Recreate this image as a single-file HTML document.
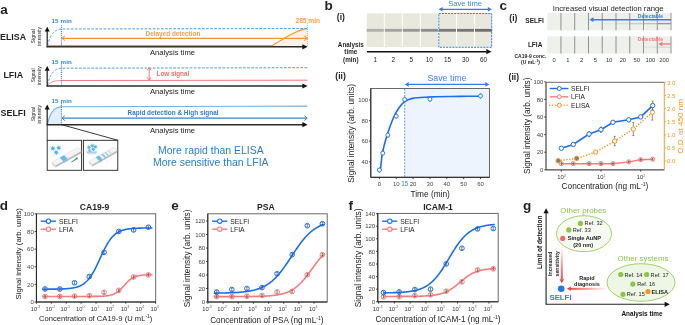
<!DOCTYPE html>
<html><head><meta charset="utf-8"><style>
html,body{margin:0;padding:0;background:#fff;}
svg{display:block;filter:blur(0.3px);}
text{font-family:"Liberation Sans", sans-serif;}
</style></head><body>
<svg width="685" height="325" viewBox="0 0 685 325" font-family='"Liberation Sans", sans-serif'>
<rect width="685" height="325" fill="#fff"/>
<text x="0.20" y="14.20" font-size="13.5" fill="#231f20" font-weight="bold" text-anchor="start" >a</text>
<text x="0.00" y="40.10" font-size="8.9" fill="#231f20" font-weight="bold" text-anchor="start" >ELISA</text>
<g transform="translate(35.3,36.30) rotate(-90)"><text x="0" y="0" font-size="5.1" fill="#222" text-anchor="middle">Signal</text></g>
<g transform="translate(41.4,36.30) rotate(-90)"><text x="0" y="0" font-size="5.1" fill="#222" text-anchor="middle">intensity</text></g>
<text x="51.50" y="23.40" font-size="6.2" fill="#2f86d0" font-weight="bold" text-anchor="start" letter-spacing="0.15">15 min</text>
<text x="150.00" y="55.00" font-size="7.65" fill="#222" text-anchor="start" >Analysis time</text>
<text x="3.40" y="78.10" font-size="8.9" fill="#231f20" font-weight="bold" text-anchor="start" >LFIA</text>
<g transform="translate(35.3,75.50) rotate(-90)"><text x="0" y="0" font-size="5.1" fill="#222" text-anchor="middle">Signal</text></g>
<g transform="translate(41.4,75.50) rotate(-90)"><text x="0" y="0" font-size="5.1" fill="#222" text-anchor="middle">intensity</text></g>
<text x="51.50" y="63.80" font-size="6.2" fill="#2f86d0" font-weight="bold" text-anchor="start" letter-spacing="0.15">15 min</text>
<text x="150.00" y="94.20" font-size="7.65" fill="#222" text-anchor="start" >Analysis time</text>
<text x="0.60" y="116.30" font-size="8.9" fill="#231f20" font-weight="bold" text-anchor="start" >SELFI</text>
<g transform="translate(35.3,114.20) rotate(-90)"><text x="0" y="0" font-size="5.1" fill="#222" text-anchor="middle">Signal</text></g>
<g transform="translate(41.4,114.20) rotate(-90)"><text x="0" y="0" font-size="5.1" fill="#222" text-anchor="middle">intensity</text></g>
<text x="51.50" y="102.50" font-size="6.2" fill="#2f86d0" font-weight="bold" text-anchor="start" letter-spacing="0.15">15 min</text>
<text x="150.00" y="132.90" font-size="7.65" fill="#222" text-anchor="start" >Analysis time</text>
<path d="M272.5,45.4 C285,37.6 296,30.6 307.4,28.400000000000002 L307.4,46.6 L272.5,46.6 Z" stroke="none" stroke-width="1" fill="#fdf2e8" />
<path d="M47.5,45.5 L272.5,45.5 C285,37.6 296,30.6 307.4,28.400000000000002" stroke="#f7962e" stroke-width="1.1" fill="none" />
<path d="M47.50,45.60 L47.95,43.85 L48.41,42.28 L48.86,40.86 L49.31,39.59 L49.77,38.45 L50.22,37.42 L50.67,36.50 L51.13,35.67 L51.58,34.92 L52.03,34.25 L52.49,33.65 L52.94,33.11 L53.39,32.62 L53.85,32.18 L54.30,31.79 L54.75,31.44 L55.21,31.12 L55.66,30.83 L56.11,30.57 L56.57,30.34 L57.02,30.14 L57.47,29.95 L57.93,29.78 L58.38,29.63 L58.83,29.50 L59.29,29.38 L59.74,29.27 L60.19,29.17 L60.65,29.08 L61.10,29.00 L307.4,28.5" stroke="#4d9bd9" stroke-width="1.0" fill="none" stroke-dasharray="2.6,1.5"/>
<line x1="63.00" y1="38.30" x2="306.00" y2="38.30" stroke="#f7962e" stroke-width="1.2" />
<polyline points="64.80,35.90 62.00,38.30 64.80,40.70" fill="none" stroke="#f7962e" stroke-width="1.1"/>
<polyline points="304.40,35.90 307.20,38.30 304.40,40.70" fill="none" stroke="#f7962e" stroke-width="1.1"/>
<text x="145.60" y="35.90" font-size="6.4" fill="#f5a04a" font-weight="bold" text-anchor="start" >Delayed detection</text>
<line x1="307.40" y1="23.10" x2="307.40" y2="46.60" stroke="#f7962e" stroke-width="0.9" stroke-dasharray="1,1"/>
<text x="295.50" y="22.80" font-size="6.6" fill="#f5a04a" font-weight="bold" text-anchor="start" >285 min</text>
<path d="M47.50,84.80 L47.95,83.05 L48.41,81.48 L48.86,80.06 L49.31,78.79 L49.77,77.65 L50.22,76.62 L50.67,75.70 L51.13,74.87 L51.58,74.12 L52.03,73.45 L52.49,72.85 L52.94,72.31 L53.39,71.82 L53.85,71.38 L54.30,70.99 L54.75,70.64 L55.21,70.32 L55.66,70.03 L56.11,69.77 L56.57,69.54 L57.02,69.34 L57.47,69.15 L57.93,68.98 L58.38,68.83 L58.83,68.70 L59.29,68.58 L59.74,68.47 L60.19,68.37 L60.65,68.28 L61.10,68.20 L307.4,67.69999999999999" stroke="#4d9bd9" stroke-width="1.0" fill="none" stroke-dasharray="2.6,1.5"/>
<path d="M47.50,85.30 L47.95,84.79 L48.41,84.34 L48.86,83.93 L49.31,83.56 L49.77,83.23 L50.22,82.93 L50.67,82.67 L51.13,82.43 L51.58,82.21 L52.03,82.02 L52.49,81.84 L52.94,81.69 L53.39,81.55 L53.85,81.42 L54.30,81.31 L54.75,81.20 L55.21,81.11 L55.66,81.03 L56.11,80.96 L56.57,80.89 L57.02,80.83 L57.47,80.77 L57.93,80.73 L58.38,80.68 L58.83,80.64 L59.29,80.61 L59.74,80.58 L60.19,80.55 L60.65,80.52 L61.10,80.50 L307.4,80.2" stroke="#f47a7a" stroke-width="1.0" fill="none" />
<line x1="149.20" y1="68.30" x2="149.20" y2="79.30" stroke="#f26b6b" stroke-width="0.9" />
<polyline points="147.3,70.1 149.2,67.5 151.1,70.1" fill="none" stroke="#f26b6b" stroke-width="0.9"/>
<polyline points="147.3,77.39999999999999 149.2,80.0 151.1,77.39999999999999" fill="none" stroke="#f26b6b" stroke-width="0.9"/>
<text x="156.60" y="75.80" font-size="6.3" fill="#f26b6b" font-weight="bold" text-anchor="start" >Low signal</text>
<path d="M47.50,124.00 L47.95,122.18 L48.41,120.54 L48.86,119.06 L49.31,117.74 L49.77,116.55 L50.22,115.47 L50.67,114.51 L51.13,113.65 L51.58,112.87 L52.03,112.17 L52.49,111.54 L52.94,110.98 L53.39,110.47 L53.85,110.02 L54.30,109.61 L54.75,109.24 L55.21,108.91 L55.66,108.61 L56.11,108.34 L56.57,108.10 L57.02,107.88 L57.47,107.69 L57.93,107.52 L58.38,107.36 L58.83,107.22 L59.29,107.09 L59.74,106.98 L60.19,106.87 L60.65,106.78 L61.10,106.70 L61.1,124.5 L47.5,124.5 Z" stroke="none" stroke-width="1" fill="#e4eef9" />
<path d="M47.50,124.00 L47.95,122.18 L48.41,120.54 L48.86,119.06 L49.31,117.74 L49.77,116.55 L50.22,115.47 L50.67,114.51 L51.13,113.65 L51.58,112.87 L52.03,112.17 L52.49,111.54 L52.94,110.98 L53.39,110.47 L53.85,110.02 L54.30,109.61 L54.75,109.24 L55.21,108.91 L55.66,108.61 L56.11,108.34 L56.57,108.10 L57.02,107.88 L57.47,107.69 L57.93,107.52 L58.38,107.36 L58.83,107.22 L59.29,107.09 L59.74,106.98 L60.19,106.87 L60.65,106.78 L61.10,106.70 L307.4,106.1" stroke="#6eb0e4" stroke-width="1.1" fill="none" />
<line x1="63.00" y1="118.10" x2="306.00" y2="118.10" stroke="#2f86d0" stroke-width="1.1" />
<polyline points="64.80,115.70 62.00,118.10 64.80,120.50" fill="none" stroke="#2f86d0" stroke-width="1.0"/>
<polyline points="304.40,115.70 307.20,118.10 304.40,120.50" fill="none" stroke="#2f86d0" stroke-width="1.0"/>
<text x="127.50" y="114.80" font-size="6.43" fill="#2f7fc8" font-weight="bold" text-anchor="start" >Rapid detection &amp; High signal</text>
<line x1="61.40" y1="25.30" x2="61.40" y2="45.60" stroke="#2f86d0" stroke-width="1.1" stroke-dasharray="1,0.9"/>
<line x1="47.20" y1="47.20" x2="47.20" y2="31.10" stroke="#2a2a2a" stroke-width="1.3" />
<polygon points="47.20,26.70 44.70,31.50 49.70,31.50" fill="#111"/>
<line x1="46.60" y1="46.80" x2="303.00" y2="46.80" stroke="#2a2a2a" stroke-width="1.4" />
<polygon points="307.60,46.80 302.40,44.20 302.40,49.40" fill="#111"/>
<line x1="61.40" y1="64.50" x2="61.40" y2="84.80" stroke="#2f86d0" stroke-width="1.1" stroke-dasharray="1,0.9"/>
<line x1="47.20" y1="86.40" x2="47.20" y2="70.30" stroke="#2a2a2a" stroke-width="1.3" />
<polygon points="47.20,65.90 44.70,70.70 49.70,70.70" fill="#111"/>
<line x1="46.60" y1="86.00" x2="303.00" y2="86.00" stroke="#2a2a2a" stroke-width="1.4" />
<polygon points="307.60,86.00 302.40,83.40 302.40,88.60" fill="#111"/>
<line x1="61.40" y1="103.20" x2="61.40" y2="123.50" stroke="#2f86d0" stroke-width="1.1" stroke-dasharray="1,0.9"/>
<line x1="47.20" y1="125.10" x2="47.20" y2="109.00" stroke="#2a2a2a" stroke-width="1.3" />
<polygon points="47.20,104.60 44.70,109.40 49.70,109.40" fill="#111"/>
<line x1="46.60" y1="124.70" x2="303.00" y2="124.70" stroke="#2a2a2a" stroke-width="1.4" />
<polygon points="307.60,124.70 302.40,122.10 302.40,127.30" fill="#111"/>
<path d="M47.5,45.6 L272.5,45.6" stroke="#f7962e" stroke-width="1.0" fill="none" />
<line x1="47.20" y1="124.50" x2="47.20" y2="140.30" stroke="#222" stroke-width="0.9" />
<line x1="61.10" y1="124.50" x2="118.00" y2="140.30" stroke="#222" stroke-width="0.9" />
<rect x="47.2" y="140.3" width="34.4" height="30" fill="#fff" stroke="#222" stroke-width="0.9"/>
<rect x="83.4" y="140.3" width="34.4" height="30" fill="#fff" stroke="#222" stroke-width="0.9"/>
<circle cx="55.3" cy="149.8" r="6.2" fill="#fbfbfb" stroke="#ececec" stroke-width="0.4"/>
<circle cx="52.9" cy="148.4" r="1.7" fill="#56b4e6"/>
<line x1="52.90" y1="148.40" x2="55.25" y2="149.13" stroke="#56b4e6" stroke-width="0.7"/>
<line x1="52.90" y1="148.40" x2="53.45" y2="150.80" stroke="#56b4e6" stroke-width="0.7"/>
<line x1="52.90" y1="148.40" x2="51.09" y2="150.08" stroke="#56b4e6" stroke-width="0.7"/>
<line x1="52.90" y1="148.40" x2="50.55" y2="147.67" stroke="#56b4e6" stroke-width="0.7"/>
<line x1="52.90" y1="148.40" x2="52.35" y2="146.00" stroke="#56b4e6" stroke-width="0.7"/>
<line x1="52.90" y1="148.40" x2="54.71" y2="146.72" stroke="#56b4e6" stroke-width="0.7"/>
<circle cx="58.7" cy="147.9" r="1.7" fill="#56b4e6"/>
<line x1="58.70" y1="147.90" x2="61.05" y2="148.63" stroke="#56b4e6" stroke-width="0.7"/>
<line x1="58.70" y1="147.90" x2="59.25" y2="150.30" stroke="#56b4e6" stroke-width="0.7"/>
<line x1="58.70" y1="147.90" x2="56.89" y2="149.58" stroke="#56b4e6" stroke-width="0.7"/>
<line x1="58.70" y1="147.90" x2="56.35" y2="147.17" stroke="#56b4e6" stroke-width="0.7"/>
<line x1="58.70" y1="147.90" x2="58.15" y2="145.50" stroke="#56b4e6" stroke-width="0.7"/>
<line x1="58.70" y1="147.90" x2="60.51" y2="146.22" stroke="#56b4e6" stroke-width="0.7"/>
<circle cx="56.2" cy="152.5" r="1.7" fill="#56b4e6"/>
<line x1="56.20" y1="152.50" x2="58.55" y2="153.23" stroke="#56b4e6" stroke-width="0.7"/>
<line x1="56.20" y1="152.50" x2="56.75" y2="154.90" stroke="#56b4e6" stroke-width="0.7"/>
<line x1="56.20" y1="152.50" x2="54.39" y2="154.18" stroke="#56b4e6" stroke-width="0.7"/>
<line x1="56.20" y1="152.50" x2="53.85" y2="151.77" stroke="#56b4e6" stroke-width="0.7"/>
<line x1="56.20" y1="152.50" x2="55.65" y2="150.10" stroke="#56b4e6" stroke-width="0.7"/>
<line x1="56.20" y1="152.50" x2="58.01" y2="150.82" stroke="#56b4e6" stroke-width="0.7"/>
<polygon points="55.40,165.60 81.40,151.00 81.40,152.90 55.40,167.50" fill="#b8b8b8"/>
<polygon points="52.00,162.00 55.40,165.60 55.40,167.50 52.00,163.90" fill="#d0d0d0"/>
<polygon points="52.00,162.00 78.00,147.40 81.40,151.00 55.40,165.60" fill="#f4f4f4" stroke="#c4c4c4" stroke-width="0.3"/>
<polygon points="59.80,157.62 64.22,155.14 67.62,158.74 63.20,161.22" fill="#66bbec"/>
<polygon points="63.20,161.22 67.62,158.74 67.62,160.64 63.20,163.12" fill="#66bbec" opacity="0.7"/>
<polygon points="71.0,162.0 76.0,158.6 75.4,157.7 78.0,157.4 77.2,159.8 76.7,159.2 71.7,162.6" fill="#2f8f55"/>
<circle cx="91.8" cy="149.2" r="6.0" fill="#f5f8fb" stroke="#e4e9ee" stroke-width="0.4"/>
<circle cx="89.0" cy="147.4" r="1.3" fill="#56b4e6"/>
<line x1="89.00" y1="147.40" x2="90.80" y2="147.96" stroke="#56b4e6" stroke-width="0.7"/>
<line x1="89.00" y1="147.40" x2="89.42" y2="149.24" stroke="#56b4e6" stroke-width="0.7"/>
<line x1="89.00" y1="147.40" x2="87.62" y2="148.68" stroke="#56b4e6" stroke-width="0.7"/>
<line x1="89.00" y1="147.40" x2="87.20" y2="146.84" stroke="#56b4e6" stroke-width="0.7"/>
<line x1="89.00" y1="147.40" x2="88.58" y2="145.56" stroke="#56b4e6" stroke-width="0.7"/>
<line x1="89.00" y1="147.40" x2="90.38" y2="146.12" stroke="#56b4e6" stroke-width="0.7"/>
<circle cx="92.3" cy="145.8" r="1.3" fill="#56b4e6"/>
<line x1="92.30" y1="145.80" x2="94.10" y2="146.36" stroke="#56b4e6" stroke-width="0.7"/>
<line x1="92.30" y1="145.80" x2="92.72" y2="147.64" stroke="#56b4e6" stroke-width="0.7"/>
<line x1="92.30" y1="145.80" x2="90.92" y2="147.08" stroke="#56b4e6" stroke-width="0.7"/>
<line x1="92.30" y1="145.80" x2="90.50" y2="145.24" stroke="#56b4e6" stroke-width="0.7"/>
<line x1="92.30" y1="145.80" x2="91.88" y2="143.96" stroke="#56b4e6" stroke-width="0.7"/>
<line x1="92.30" y1="145.80" x2="93.68" y2="144.52" stroke="#56b4e6" stroke-width="0.7"/>
<circle cx="95.3" cy="146.8" r="1.3" fill="#56b4e6"/>
<line x1="95.30" y1="146.80" x2="97.10" y2="147.36" stroke="#56b4e6" stroke-width="0.7"/>
<line x1="95.30" y1="146.80" x2="95.72" y2="148.64" stroke="#56b4e6" stroke-width="0.7"/>
<line x1="95.30" y1="146.80" x2="93.92" y2="148.08" stroke="#56b4e6" stroke-width="0.7"/>
<line x1="95.30" y1="146.80" x2="93.50" y2="146.24" stroke="#56b4e6" stroke-width="0.7"/>
<line x1="95.30" y1="146.80" x2="94.88" y2="144.96" stroke="#56b4e6" stroke-width="0.7"/>
<line x1="95.30" y1="146.80" x2="96.68" y2="145.52" stroke="#56b4e6" stroke-width="0.7"/>
<circle cx="93.2" cy="149.3" r="1.3" fill="#56b4e6"/>
<line x1="93.20" y1="149.30" x2="95.00" y2="149.86" stroke="#56b4e6" stroke-width="0.7"/>
<line x1="93.20" y1="149.30" x2="93.62" y2="151.14" stroke="#56b4e6" stroke-width="0.7"/>
<line x1="93.20" y1="149.30" x2="91.82" y2="150.58" stroke="#56b4e6" stroke-width="0.7"/>
<line x1="93.20" y1="149.30" x2="91.40" y2="148.74" stroke="#56b4e6" stroke-width="0.7"/>
<line x1="93.20" y1="149.30" x2="92.78" y2="147.46" stroke="#56b4e6" stroke-width="0.7"/>
<line x1="93.20" y1="149.30" x2="94.58" y2="148.02" stroke="#56b4e6" stroke-width="0.7"/>
<circle cx="89.6" cy="150.6" r="1.0" fill="#56b4e6"/>
<line x1="89.60" y1="150.60" x2="90.99" y2="151.03" stroke="#56b4e6" stroke-width="0.7"/>
<line x1="89.60" y1="150.60" x2="89.92" y2="152.01" stroke="#56b4e6" stroke-width="0.7"/>
<line x1="89.60" y1="150.60" x2="88.54" y2="151.59" stroke="#56b4e6" stroke-width="0.7"/>
<line x1="89.60" y1="150.60" x2="88.21" y2="150.17" stroke="#56b4e6" stroke-width="0.7"/>
<line x1="89.60" y1="150.60" x2="89.28" y2="149.19" stroke="#56b4e6" stroke-width="0.7"/>
<line x1="89.60" y1="150.60" x2="90.66" y2="149.61" stroke="#56b4e6" stroke-width="0.7"/>
<rect x="86.5" y="151.6" width="10.5" height="1.0" fill="#7fb9e6"/>
<rect x="87.2" y="153.0" width="9" height="0.6" fill="#b0d3ef"/>
<polygon points="92.30,164.70 117.10,150.50 117.10,152.40 92.30,166.60" fill="#b8b8b8"/>
<polygon points="89.00,161.20 92.30,164.70 92.30,166.60 89.00,163.10" fill="#d0d0d0"/>
<polygon points="89.00,161.20 113.80,147.00 117.10,150.50 92.30,164.70" fill="#f4f4f4" stroke="#c4c4c4" stroke-width="0.3"/>
<polygon points="95.70,157.37 98.92,155.52 102.22,159.02 99.00,160.87" fill="#66bbec"/>
<polygon points="99.00,160.87 102.22,159.02 102.22,160.92 99.00,162.77" fill="#66bbec" opacity="0.7"/>
<polygon points="101.15,154.24 102.64,153.39 105.94,156.89 104.45,157.74" fill="#7fc3ee"/>
<polygon points="104.45,157.74 105.94,156.89 105.94,158.79 104.45,159.64" fill="#7fc3ee" opacity="0.7"/>
<polygon points="104.38,152.40 105.62,151.69 108.92,155.19 107.68,155.90" fill="#99cff1"/>
<polygon points="107.68,155.90 108.92,155.19 108.92,157.09 107.68,157.80" fill="#99cff1" opacity="0.7"/>
<polygon points="107.60,150.55 108.59,149.98 111.89,153.48 110.90,154.05" fill="#b5dcf4"/>
<polygon points="110.90,154.05 111.89,153.48 111.89,155.38 110.90,155.95" fill="#b5dcf4" opacity="0.7"/>
<text x="210.80" y="153.90" font-size="10.45" fill="#2b7dc9" text-anchor="middle" >More rapid than ELISA</text>
<text x="210.80" y="166.20" font-size="10.45" fill="#2b7dc9" text-anchor="middle" >More sensitive than LFIA</text>
<text x="324.60" y="9.70" font-size="13.5" fill="#231f20" font-weight="bold" text-anchor="start" >b</text>
<text x="336.80" y="19.80" font-size="8.6" fill="#231f20" font-weight="bold" text-anchor="start" >(i)</text>
<rect x="366.70" y="13.4" width="17.06" height="33.6" fill="#e8e8dd"/>
<rect x="366.70" y="28.9" width="17.06" height="2.8" fill="#b0afac"/>
<rect x="384.76" y="13.4" width="17.06" height="33.6" fill="#e8e8dd"/>
<rect x="384.76" y="28.9" width="17.06" height="2.8" fill="#a2a2a0"/>
<rect x="402.82" y="13.4" width="17.06" height="33.6" fill="#e8e8dd"/>
<rect x="402.82" y="28.9" width="17.06" height="2.8" fill="#979795"/>
<rect x="420.88" y="13.4" width="17.06" height="33.6" fill="#e8e8dd"/>
<rect x="420.88" y="28.9" width="17.06" height="2.8" fill="#8c8c8a"/>
<rect x="438.94" y="13.4" width="17.06" height="33.6" fill="#e8e8dd"/>
<rect x="438.94" y="28.9" width="17.06" height="2.8" fill="#7a7a79"/>
<rect x="457.00" y="13.4" width="17.06" height="33.6" fill="#e8e8dd"/>
<rect x="457.00" y="28.9" width="17.06" height="2.8" fill="#767675"/>
<rect x="475.06" y="13.4" width="17.06" height="33.6" fill="#e8e8dd"/>
<rect x="475.06" y="28.9" width="17.06" height="2.8" fill="#6e6e6d"/>
<rect x="438.8" y="13.5" width="52.9" height="33.8" fill="none" stroke="#2f7ff0" stroke-width="1" stroke-dasharray="2,1.1"/>
<text x="465.10" y="6.10" font-size="7.6" fill="#3c87ea" text-anchor="middle" >Save time</text>
<line x1="441.00" y1="9.30" x2="489.50" y2="9.30" stroke="#2f7ff0" stroke-width="1.3" />
<polygon points="438.60,9.30 442.60,7.00 442.60,11.60" fill="#2f7ff0"/>
<polygon points="491.90,9.30 487.90,7.00 487.90,11.60" fill="#2f7ff0"/>
<line x1="367.00" y1="51.70" x2="486.50" y2="51.70" stroke="#111" stroke-width="1.5" />
<polygon points="491.50,51.70 486.30,49.10 486.30,54.30" fill="#111"/>
<text x="350.80" y="46.50" font-size="6.3" fill="#231f20" font-weight="bold" text-anchor="middle" >Analysis</text>
<text x="350.80" y="54.40" font-size="6.3" fill="#231f20" font-weight="bold" text-anchor="middle" >time</text>
<text x="350.80" y="62.30" font-size="6.3" fill="#231f20" font-weight="bold" text-anchor="middle" >(min)</text>
<text x="375.20" y="62.30" font-size="6.4" fill="#222" text-anchor="middle" >1</text>
<text x="393.26" y="62.30" font-size="6.4" fill="#222" text-anchor="middle" >2</text>
<text x="411.32" y="62.30" font-size="6.4" fill="#222" text-anchor="middle" >5</text>
<text x="429.38" y="62.30" font-size="6.4" fill="#222" text-anchor="middle" >10</text>
<text x="447.44" y="62.30" font-size="6.4" fill="#222" text-anchor="middle" >15</text>
<text x="465.50" y="62.30" font-size="6.4" fill="#222" text-anchor="middle" >30</text>
<text x="483.56" y="62.30" font-size="6.4" fill="#222" text-anchor="middle" >60</text>
<text x="335.30" y="79.40" font-size="8.6" fill="#231f20" font-weight="bold" text-anchor="start" >(ii)</text>
<rect x="404.7" y="88.5" width="84.80" height="88.80" fill="#edf4fd"/>
<line x1="404.70" y1="88.50" x2="404.70" y2="177.30" stroke="#2f7ff0" stroke-width="0.75" stroke-dasharray="2,1.2"/>
<rect x="370.8" y="88.5" width="118.70" height="88.80" fill="none" stroke="#5a5a5a" stroke-width="0.9"/>
<line x1="370.80" y1="88.50" x2="370.80" y2="177.30" stroke="#222" stroke-width="1.0" />
<line x1="370.80" y1="177.30" x2="489.50" y2="177.30" stroke="#222" stroke-width="1.0" />
<line x1="369.00" y1="161.80" x2="370.80" y2="161.80" stroke="#222" stroke-width="0.8" />
<text x="368.20" y="163.95" font-size="6.0" fill="#444" text-anchor="end" >40</text>
<line x1="369.00" y1="141.20" x2="370.80" y2="141.20" stroke="#222" stroke-width="0.8" />
<text x="368.20" y="143.35" font-size="6.0" fill="#444" text-anchor="end" >60</text>
<line x1="369.00" y1="120.60" x2="370.80" y2="120.60" stroke="#222" stroke-width="0.8" />
<text x="368.20" y="122.75" font-size="6.0" fill="#444" text-anchor="end" >80</text>
<line x1="369.00" y1="100.00" x2="370.80" y2="100.00" stroke="#222" stroke-width="0.8" />
<text x="368.20" y="102.15" font-size="6.0" fill="#444" text-anchor="end" >100</text>
<line x1="379.40" y1="177.30" x2="379.40" y2="179.10" stroke="#222" stroke-width="0.8" />
<text x="379.40" y="185.60" font-size="6.0" fill="#444" text-anchor="middle" >0</text>
<line x1="396.25" y1="177.30" x2="396.25" y2="179.10" stroke="#222" stroke-width="0.8" />
<text x="396.25" y="185.60" font-size="6.0" fill="#444" text-anchor="middle" >10</text>
<line x1="413.10" y1="177.30" x2="413.10" y2="179.10" stroke="#222" stroke-width="0.8" />
<text x="413.10" y="185.60" font-size="6.0" fill="#444" text-anchor="middle" >20</text>
<line x1="429.95" y1="177.30" x2="429.95" y2="179.10" stroke="#222" stroke-width="0.8" />
<text x="429.95" y="185.60" font-size="6.0" fill="#444" text-anchor="middle" >30</text>
<line x1="446.80" y1="177.30" x2="446.80" y2="179.10" stroke="#222" stroke-width="0.8" />
<text x="446.80" y="185.60" font-size="6.0" fill="#444" text-anchor="middle" >40</text>
<line x1="463.65" y1="177.30" x2="463.65" y2="179.10" stroke="#222" stroke-width="0.8" />
<text x="463.65" y="185.60" font-size="6.0" fill="#444" text-anchor="middle" >50</text>
<line x1="480.50" y1="177.30" x2="480.50" y2="179.10" stroke="#222" stroke-width="0.8" />
<text x="480.50" y="185.60" font-size="6.0" fill="#444" text-anchor="middle" >60</text>
<text x="404.67" y="185.60" font-size="6.3" fill="#2f7ff0" text-anchor="middle" >15</text>
<g transform="translate(354.3,133.4) rotate(-90)"><text x="0" y="0" font-size="8.4" fill="#222" text-anchor="middle">Signal intensity (arb. units)</text></g>
<text x="430.20" y="197.20" font-size="8.3" fill="#222" text-anchor="middle" >Time (min)</text>
<line x1="406.50" y1="84.40" x2="487.00" y2="84.40" stroke="#2f7ff0" stroke-width="1.3" />
<polygon points="404.70,84.40 408.70,82.10 408.70,86.70" fill="#2f7ff0"/>
<polygon points="489.30,84.40 485.30,82.10 485.30,86.70" fill="#2f7ff0"/>
<text x="447.00" y="80.70" font-size="8.8" fill="#3c87ea" text-anchor="middle" >Save time</text>
<path d="M380.40,170.20 C380.75,167.30 381.35,158.75 382.50,152.80 C383.65,146.85 385.55,140.17 387.30,134.50 C389.05,128.83 391.17,123.08 393.00,118.80 C394.83,114.52 396.42,111.63 398.30,108.80 C400.18,105.97 401.92,103.53 404.30,101.80 C406.68,100.07 408.58,99.18 412.60,98.40 C416.62,97.62 424.50,97.37 428.40,97.10 C432.30,96.83 430.73,96.92 436.00,96.80 C441.27,96.68 452.50,96.50 460.00,96.40 C467.50,96.30 477.50,96.23 481.00,96.20" stroke="#1a6ff0" stroke-width="1.6" fill="none" stroke-linejoin="round" stroke-linecap="round"/>
<line x1="379.40" y1="167.24" x2="379.40" y2="172.84" stroke="#333" stroke-width="0.5" />
<circle cx="379.40" cy="170.04" r="2.0" fill="#fff" stroke="#1a6ff0" stroke-width="0.9"/>
<line x1="382.77" y1="150.35" x2="382.77" y2="155.95" stroke="#333" stroke-width="0.5" />
<circle cx="382.77" cy="153.15" r="2.0" fill="#fff" stroke="#1a6ff0" stroke-width="0.9"/>
<line x1="387.82" y1="132.32" x2="387.82" y2="137.92" stroke="#333" stroke-width="0.5" />
<circle cx="387.82" cy="135.12" r="2.0" fill="#fff" stroke="#1a6ff0" stroke-width="0.9"/>
<line x1="396.25" y1="113.37" x2="396.25" y2="118.97" stroke="#333" stroke-width="0.5" />
<circle cx="396.25" cy="116.17" r="2.0" fill="#fff" stroke="#1a6ff0" stroke-width="0.9"/>
<line x1="404.67" y1="96.79" x2="404.67" y2="102.39" stroke="#333" stroke-width="0.5" />
<circle cx="404.67" cy="99.59" r="2.0" fill="#fff" stroke="#1a6ff0" stroke-width="0.9"/>
<line x1="429.95" y1="96.38" x2="429.95" y2="101.98" stroke="#333" stroke-width="0.5" />
<circle cx="429.95" cy="99.18" r="2.0" fill="#fff" stroke="#1a6ff0" stroke-width="0.9"/>
<line x1="480.50" y1="93.18" x2="480.50" y2="98.78" stroke="#333" stroke-width="0.5" />
<circle cx="480.50" cy="95.98" r="2.0" fill="#fff" stroke="#1a6ff0" stroke-width="0.9"/>
<text x="499.60" y="9.90" font-size="13.5" fill="#231f20" font-weight="bold" text-anchor="start" >c</text>
<text x="509.30" y="20.50" font-size="8.6" fill="#231f20" font-weight="bold" text-anchor="start" >(i)</text>
<text x="552.80" y="11.00" font-size="7.7" fill="#222" text-anchor="start" >Increased visual detection range</text>
<rect x="547.2" y="12.9" width="123.84" height="17.40" fill="#eef0eb"/>
<line x1="560.96" y1="12.90" x2="560.96" y2="30.30" stroke="#606060" stroke-width="0.65" />
<line x1="574.72" y1="12.90" x2="574.72" y2="30.30" stroke="#606060" stroke-width="0.65" />
<line x1="588.48" y1="12.90" x2="588.48" y2="30.30" stroke="#606060" stroke-width="0.65" />
<line x1="602.24" y1="12.90" x2="602.24" y2="30.30" stroke="#606060" stroke-width="0.65" />
<line x1="616.00" y1="12.90" x2="616.00" y2="30.30" stroke="#606060" stroke-width="0.65" />
<line x1="629.76" y1="12.90" x2="629.76" y2="30.30" stroke="#606060" stroke-width="0.65" />
<line x1="643.52" y1="12.90" x2="643.52" y2="30.30" stroke="#606060" stroke-width="0.65" />
<line x1="657.28" y1="12.90" x2="657.28" y2="30.30" stroke="#606060" stroke-width="0.65" />
<line x1="671.04" y1="12.90" x2="671.04" y2="30.30" stroke="#606060" stroke-width="0.65" />
<rect x="547.2" y="36.3" width="123.84" height="17.20" fill="#eef0eb"/>
<line x1="560.96" y1="36.30" x2="560.96" y2="53.50" stroke="#606060" stroke-width="0.65" />
<line x1="574.72" y1="36.30" x2="574.72" y2="53.50" stroke="#606060" stroke-width="0.65" />
<line x1="588.48" y1="36.30" x2="588.48" y2="53.50" stroke="#606060" stroke-width="0.65" />
<line x1="602.24" y1="36.30" x2="602.24" y2="53.50" stroke="#606060" stroke-width="0.65" />
<line x1="616.00" y1="36.30" x2="616.00" y2="53.50" stroke="#606060" stroke-width="0.65" />
<line x1="629.76" y1="36.30" x2="629.76" y2="53.50" stroke="#606060" stroke-width="0.65" />
<line x1="643.52" y1="36.30" x2="643.52" y2="53.50" stroke="#606060" stroke-width="0.65" />
<line x1="657.28" y1="36.30" x2="657.28" y2="53.50" stroke="#606060" stroke-width="0.65" />
<line x1="671.04" y1="36.30" x2="671.04" y2="53.50" stroke="#606060" stroke-width="0.65" />
<rect x="602.74" y="22.9" width="12.76" height="1.4" fill="#7a7a7a" opacity="0.06"/>
<rect x="616.50" y="22.9" width="12.76" height="1.4" fill="#7a7a7a" opacity="0.15"/>
<rect x="630.26" y="22.9" width="12.76" height="1.4" fill="#7a7a7a" opacity="0.3"/>
<rect x="644.02" y="22.9" width="12.76" height="1.4" fill="#7a7a7a" opacity="0.4"/>
<rect x="657.78" y="22.9" width="12.76" height="1.4" fill="#7a7a7a" opacity="0.75"/>
<rect x="644.02" y="46.6" width="12.76" height="1.3" fill="#8a8a8a" opacity="0.12"/>
<rect x="657.78" y="46.6" width="12.76" height="1.3" fill="#8a8a8a" opacity="0.22"/>
<text x="525.30" y="23.40" font-size="6.5" fill="#231f20" font-weight="bold" text-anchor="start" >SELFI</text>
<text x="527.90" y="47.30" font-size="6.5" fill="#231f20" font-weight="bold" text-anchor="start" >LFIA</text>
<text x="530.30" y="58.10" font-size="5.0" fill="#222" font-weight="bold" text-anchor="middle" >CA19-9 conc.</text>
<text x="530.50" y="64.00" font-size="5.0" fill="#222" font-weight="bold" text-anchor="middle" >(U mL<tspan font-size="3.3" dy="-1.8">-1</tspan><tspan dy="1.8">)</tspan></text>
<text x="554.08" y="61.60" font-size="5.8" fill="#333" text-anchor="middle" >0</text>
<text x="567.84" y="61.60" font-size="5.8" fill="#333" text-anchor="middle" >1</text>
<text x="581.60" y="61.60" font-size="5.8" fill="#333" text-anchor="middle" >2</text>
<text x="595.36" y="61.60" font-size="5.8" fill="#333" text-anchor="middle" >5</text>
<text x="609.12" y="61.60" font-size="5.8" fill="#333" text-anchor="middle" >10</text>
<text x="622.88" y="61.60" font-size="5.8" fill="#333" text-anchor="middle" >20</text>
<text x="636.64" y="61.60" font-size="5.8" fill="#333" text-anchor="middle" >50</text>
<text x="650.40" y="61.60" font-size="5.8" fill="#333" text-anchor="middle" >100</text>
<text x="664.16" y="61.60" font-size="5.8" fill="#333" text-anchor="middle" >200</text>
<line x1="592.50" y1="19.70" x2="671.00" y2="19.70" stroke="#2f7ff0" stroke-width="1.4" />
<polygon points="589.30,19.70 593.50,17.30 593.50,22.10" fill="#2f7ff0"/>
<text x="637.80" y="17.80" font-size="5.0" fill="#2f7ff0" font-weight="bold" text-anchor="start" >Detectable</text>
<line x1="662.00" y1="44.00" x2="670.80" y2="44.00" stroke="#f47a7a" stroke-width="1.4" />
<polygon points="658.30,44.00 662.50,41.60 662.50,46.40" fill="#f47a7a"/>
<text x="637.80" y="41.10" font-size="5.0" fill="#f47a7a" font-weight="bold" text-anchor="start" >Detectable</text>
<text x="508.60" y="80.20" font-size="8.6" fill="#231f20" font-weight="bold" text-anchor="start" >(ii)</text>
<line x1="546.00" y1="82.30" x2="664.30" y2="82.30" stroke="#5a5a5a" stroke-width="0.9" />
<line x1="546.00" y1="82.30" x2="546.00" y2="169.90" stroke="#222" stroke-width="1.0" />
<line x1="546.00" y1="169.90" x2="664.30" y2="169.90" stroke="#222" stroke-width="1.0" />
<line x1="664.30" y1="82.30" x2="664.30" y2="169.90" stroke="#f7931e" stroke-width="0.9" />
<line x1="544.20" y1="169.80" x2="546.00" y2="169.80" stroke="#222" stroke-width="0.8" />
<text x="543.40" y="171.95" font-size="6.0" fill="#444" text-anchor="end" >0</text>
<line x1="544.20" y1="152.20" x2="546.00" y2="152.20" stroke="#222" stroke-width="0.8" />
<text x="543.40" y="154.35" font-size="6.0" fill="#444" text-anchor="end" >20</text>
<line x1="544.20" y1="134.60" x2="546.00" y2="134.60" stroke="#222" stroke-width="0.8" />
<text x="543.40" y="136.75" font-size="6.0" fill="#444" text-anchor="end" >40</text>
<line x1="544.20" y1="117.00" x2="546.00" y2="117.00" stroke="#222" stroke-width="0.8" />
<text x="543.40" y="119.15" font-size="6.0" fill="#444" text-anchor="end" >60</text>
<line x1="544.20" y1="99.40" x2="546.00" y2="99.40" stroke="#222" stroke-width="0.8" />
<text x="543.40" y="101.55" font-size="6.0" fill="#444" text-anchor="end" >80</text>
<line x1="544.20" y1="81.80" x2="546.00" y2="81.80" stroke="#222" stroke-width="0.8" />
<text x="543.40" y="83.95" font-size="6.0" fill="#444" text-anchor="end" >100</text>
<line x1="664.30" y1="161.00" x2="666.10" y2="161.00" stroke="#f7931e" stroke-width="0.8" />
<text x="667.00" y="163.15" font-size="6.1" fill="#f7931e" text-anchor="start" >0.0</text>
<line x1="664.30" y1="147.90" x2="666.10" y2="147.90" stroke="#f7931e" stroke-width="0.8" />
<text x="667.00" y="150.05" font-size="6.1" fill="#f7931e" text-anchor="start" >0.5</text>
<line x1="664.30" y1="134.80" x2="666.10" y2="134.80" stroke="#f7931e" stroke-width="0.8" />
<text x="667.00" y="136.95" font-size="6.1" fill="#f7931e" text-anchor="start" >1.0</text>
<line x1="664.30" y1="121.70" x2="666.10" y2="121.70" stroke="#f7931e" stroke-width="0.8" />
<text x="667.00" y="123.85" font-size="6.1" fill="#f7931e" text-anchor="start" >1.5</text>
<line x1="664.30" y1="108.60" x2="666.10" y2="108.60" stroke="#f7931e" stroke-width="0.8" />
<text x="667.00" y="110.75" font-size="6.1" fill="#f7931e" text-anchor="start" >2.0</text>
<line x1="664.30" y1="95.50" x2="666.10" y2="95.50" stroke="#f7931e" stroke-width="0.8" />
<text x="667.00" y="97.65" font-size="6.1" fill="#f7931e" text-anchor="start" >2.5</text>
<line x1="664.30" y1="82.40" x2="666.10" y2="82.40" stroke="#f7931e" stroke-width="0.8" />
<text x="667.00" y="84.55" font-size="6.1" fill="#f7931e" text-anchor="start" >3.0</text>
<line x1="561.30" y1="169.90" x2="561.30" y2="171.70" stroke="#222" stroke-width="0.8" />
<text x="561.50" y="178.90" font-size="5.8" fill="#333" text-anchor="middle" >10<tspan font-size="3.6" dy="-2.3" fill="#666">0</tspan></text>
<line x1="601.00" y1="169.90" x2="601.00" y2="171.70" stroke="#222" stroke-width="0.8" />
<text x="601.20" y="178.90" font-size="5.8" fill="#333" text-anchor="middle" >10<tspan font-size="3.6" dy="-2.3" fill="#666">1</tspan></text>
<line x1="640.70" y1="169.90" x2="640.70" y2="171.70" stroke="#222" stroke-width="0.8" />
<text x="640.90" y="178.90" font-size="5.8" fill="#333" text-anchor="middle" >10<tspan font-size="3.6" dy="-2.3" fill="#666">2</tspan></text>
<g transform="translate(529.8,125.8) rotate(-90)"><text x="0" y="0" font-size="8.2" fill="#222" text-anchor="middle">Signal intensity (arb. units)</text></g>
<g transform="translate(683.0,126.4) rotate(-90)"><text x="0" y="0" font-size="8.1" fill="#f7931e" text-anchor="middle">O.D. at 450 nm</text></g>
<text x="561.60" y="188.50" font-size="8.25" fill="#222" text-anchor="start" >Concentration (ng mL<tspan font-size="5.2" dy="-3">-1</tspan><tspan dy="3">)</tspan></text>
<path d="M561.30,163.64 L573.25,163.64 L589.05,163.64 L601.00,163.64 L612.95,163.64 L628.75,161.88 L640.70,159.68 L652.65,159.24" stroke="#f47c7c" stroke-width="1.5" fill="none" />
<path d="M558.20,160.74 L576.70,158.38 L595.70,152.09 L614.70,141.09 L633.30,129.04 L652.30,112.27" stroke="#f7931e" stroke-width="1.5" fill="none" stroke-dasharray="0.1,2.8" stroke-linecap="round"/>
<path d="M561.30,148.24 L573.25,144.46 L589.05,134.07 L601.00,129.67 L612.95,122.28 L628.75,119.82 L640.70,116.91 L652.65,105.56" stroke="#1a6ff0" stroke-width="1.6" fill="none" />
<line x1="561.30" y1="162.04" x2="561.30" y2="165.24" stroke="#444" stroke-width="0.7" />
<line x1="560.40" y1="163.64" x2="562.20" y2="163.64" stroke="#555" stroke-width="0.6" />
<circle cx="561.30" cy="163.64" r="2.1" fill="none" stroke="#f47c7c" stroke-width="1.0"/>
<line x1="573.25" y1="162.04" x2="573.25" y2="165.24" stroke="#444" stroke-width="0.7" />
<line x1="572.35" y1="163.64" x2="574.15" y2="163.64" stroke="#555" stroke-width="0.6" />
<circle cx="573.25" cy="163.64" r="2.1" fill="none" stroke="#f47c7c" stroke-width="1.0"/>
<line x1="589.05" y1="162.04" x2="589.05" y2="165.24" stroke="#444" stroke-width="0.7" />
<line x1="588.15" y1="163.64" x2="589.95" y2="163.64" stroke="#555" stroke-width="0.6" />
<circle cx="589.05" cy="163.64" r="2.1" fill="none" stroke="#f47c7c" stroke-width="1.0"/>
<line x1="601.00" y1="162.04" x2="601.00" y2="165.24" stroke="#444" stroke-width="0.7" />
<line x1="600.10" y1="163.64" x2="601.90" y2="163.64" stroke="#555" stroke-width="0.6" />
<circle cx="601.00" cy="163.64" r="2.1" fill="none" stroke="#f47c7c" stroke-width="1.0"/>
<line x1="612.95" y1="162.04" x2="612.95" y2="165.24" stroke="#444" stroke-width="0.7" />
<line x1="612.05" y1="163.64" x2="613.85" y2="163.64" stroke="#555" stroke-width="0.6" />
<circle cx="612.95" cy="163.64" r="2.1" fill="none" stroke="#f47c7c" stroke-width="1.0"/>
<line x1="628.75" y1="160.28" x2="628.75" y2="163.48" stroke="#444" stroke-width="0.7" />
<line x1="627.85" y1="161.88" x2="629.65" y2="161.88" stroke="#555" stroke-width="0.6" />
<circle cx="628.75" cy="161.88" r="2.1" fill="none" stroke="#f47c7c" stroke-width="1.0"/>
<line x1="640.70" y1="158.08" x2="640.70" y2="161.28" stroke="#444" stroke-width="0.7" />
<line x1="639.80" y1="159.68" x2="641.60" y2="159.68" stroke="#555" stroke-width="0.6" />
<circle cx="640.70" cy="159.68" r="2.1" fill="none" stroke="#f47c7c" stroke-width="1.0"/>
<line x1="652.65" y1="157.64" x2="652.65" y2="160.84" stroke="#444" stroke-width="0.7" />
<line x1="651.75" y1="159.24" x2="653.55" y2="159.24" stroke="#555" stroke-width="0.6" />
<circle cx="652.65" cy="159.24" r="2.1" fill="none" stroke="#f47c7c" stroke-width="1.0"/>
<line x1="558.20" y1="159.43" x2="558.20" y2="162.05" stroke="#333" stroke-width="0.55" />
<circle cx="558.20" cy="160.74" r="2.2" fill="#78808c" stroke="#f7931e" stroke-width="1.0"/>
<line x1="576.70" y1="157.07" x2="576.70" y2="159.69" stroke="#333" stroke-width="0.55" />
<circle cx="576.70" cy="158.38" r="2.2" fill="#78808c" stroke="#f7931e" stroke-width="1.0"/>
<line x1="595.70" y1="150.52" x2="595.70" y2="153.66" stroke="#333" stroke-width="0.55" />
<circle cx="595.70" cy="152.09" r="2.2" fill="#fff" stroke="#f7931e" stroke-width="1.0"/>
<line x1="614.70" y1="136.37" x2="614.70" y2="145.80" stroke="#333" stroke-width="0.55" />
<line x1="613.80" y1="136.37" x2="615.60" y2="136.37" stroke="#333" stroke-width="0.55" />
<line x1="613.80" y1="145.80" x2="615.60" y2="145.80" stroke="#333" stroke-width="0.55" />
<circle cx="614.70" cy="141.09" r="2.2" fill="#fff" stroke="#f7931e" stroke-width="1.0"/>
<line x1="633.30" y1="122.49" x2="633.30" y2="135.59" stroke="#333" stroke-width="0.55" />
<line x1="632.40" y1="122.49" x2="634.20" y2="122.49" stroke="#333" stroke-width="0.55" />
<line x1="632.40" y1="135.59" x2="634.20" y2="135.59" stroke="#333" stroke-width="0.55" />
<circle cx="633.30" cy="129.04" r="2.2" fill="#fff" stroke="#f7931e" stroke-width="1.0"/>
<line x1="652.30" y1="104.41" x2="652.30" y2="120.13" stroke="#333" stroke-width="0.55" />
<line x1="651.40" y1="104.41" x2="653.20" y2="104.41" stroke="#333" stroke-width="0.55" />
<line x1="651.40" y1="120.13" x2="653.20" y2="120.13" stroke="#333" stroke-width="0.55" />
<circle cx="652.30" cy="112.27" r="2.2" fill="#fff" stroke="#f7931e" stroke-width="1.0"/>
<line x1="561.30" y1="146.92" x2="561.30" y2="149.56" stroke="#333" stroke-width="0.55" />
<circle cx="561.30" cy="148.24" r="2.2" fill="#fff" stroke="#1a6ff0" stroke-width="1.0"/>
<line x1="573.25" y1="143.14" x2="573.25" y2="145.78" stroke="#333" stroke-width="0.55" />
<circle cx="573.25" cy="144.46" r="2.2" fill="#fff" stroke="#1a6ff0" stroke-width="1.0"/>
<line x1="589.05" y1="131.43" x2="589.05" y2="136.71" stroke="#333" stroke-width="0.55" />
<line x1="588.15" y1="131.43" x2="589.95" y2="131.43" stroke="#333" stroke-width="0.55" />
<line x1="588.15" y1="136.71" x2="589.95" y2="136.71" stroke="#333" stroke-width="0.55" />
<circle cx="589.05" cy="134.07" r="2.2" fill="#fff" stroke="#1a6ff0" stroke-width="1.0"/>
<line x1="601.00" y1="127.03" x2="601.00" y2="132.31" stroke="#333" stroke-width="0.55" />
<line x1="600.10" y1="127.03" x2="601.90" y2="127.03" stroke="#333" stroke-width="0.55" />
<line x1="600.10" y1="132.31" x2="601.90" y2="132.31" stroke="#333" stroke-width="0.55" />
<circle cx="601.00" cy="129.67" r="2.2" fill="#fff" stroke="#1a6ff0" stroke-width="1.0"/>
<line x1="612.95" y1="120.96" x2="612.95" y2="123.60" stroke="#333" stroke-width="0.55" />
<circle cx="612.95" cy="122.28" r="2.2" fill="#fff" stroke="#1a6ff0" stroke-width="1.0"/>
<line x1="628.75" y1="118.50" x2="628.75" y2="121.14" stroke="#333" stroke-width="0.55" />
<circle cx="628.75" cy="119.82" r="2.2" fill="#fff" stroke="#1a6ff0" stroke-width="1.0"/>
<line x1="640.70" y1="115.59" x2="640.70" y2="118.23" stroke="#333" stroke-width="0.55" />
<circle cx="640.70" cy="116.91" r="2.2" fill="#fff" stroke="#1a6ff0" stroke-width="1.0"/>
<line x1="652.65" y1="101.16" x2="652.65" y2="109.96" stroke="#333" stroke-width="0.55" />
<line x1="651.75" y1="101.16" x2="653.55" y2="101.16" stroke="#333" stroke-width="0.55" />
<line x1="651.75" y1="109.96" x2="653.55" y2="109.96" stroke="#333" stroke-width="0.55" />
<circle cx="652.65" cy="105.56" r="2.2" fill="#fff" stroke="#1a6ff0" stroke-width="1.0"/>
<line x1="549.70" y1="88.50" x2="568.40" y2="88.50" stroke="#1a6ff0" stroke-width="1.4" />
<circle cx="559.3" cy="88.5" r="2.0" fill="#fff" stroke="#1a6ff0" stroke-width="1.0"/>
<text x="571.00" y="90.80" font-size="6.6" fill="#222" text-anchor="start" >SELFI</text>
<line x1="549.70" y1="96.80" x2="568.40" y2="96.80" stroke="#f47c7c" stroke-width="1.4" />
<circle cx="559.3" cy="96.8" r="2.0" fill="#fff" stroke="#f47c7c" stroke-width="1.0"/>
<text x="571.00" y="99.10" font-size="6.6" fill="#222" text-anchor="start" >LFIA</text>
<line x1="549.70" y1="105.20" x2="568.40" y2="105.20" stroke="#f7931e" stroke-width="1.4" stroke-dasharray="0.1,2.8" stroke-linecap="round"/>
<circle cx="559.3" cy="105.2" r="2.0" fill="#fff" stroke="#f7931e" stroke-width="1.0"/>
<text x="571.00" y="107.50" font-size="6.6" fill="#222" text-anchor="start" >ELISA</text>
<text x="-0.30" y="209.70" font-size="13.5" fill="#231f20" font-weight="bold" text-anchor="start" >d</text>
<text x="94.60" y="210.20" font-size="8.6" fill="#231f20" font-weight="bold" text-anchor="middle" >CA19-9</text>
<rect x="36.4" y="213.8" width="119.30" height="88.20" fill="none" stroke="#5a5a5a" stroke-width="0.9"/>
<line x1="36.40" y1="213.80" x2="36.40" y2="302.00" stroke="#222" stroke-width="1.0" />
<line x1="36.40" y1="302.00" x2="155.70" y2="302.00" stroke="#222" stroke-width="1.0" />
<line x1="34.60" y1="302.00" x2="36.40" y2="302.00" stroke="#222" stroke-width="0.8" />
<text x="33.80" y="304.15" font-size="6.0" fill="#444" text-anchor="end" >0</text>
<line x1="34.60" y1="284.36" x2="36.40" y2="284.36" stroke="#222" stroke-width="0.8" />
<text x="33.80" y="286.51" font-size="6.0" fill="#444" text-anchor="end" >20</text>
<line x1="34.60" y1="266.72" x2="36.40" y2="266.72" stroke="#222" stroke-width="0.8" />
<text x="33.80" y="268.87" font-size="6.0" fill="#444" text-anchor="end" >40</text>
<line x1="34.60" y1="249.08" x2="36.40" y2="249.08" stroke="#222" stroke-width="0.8" />
<text x="33.80" y="251.23" font-size="6.0" fill="#444" text-anchor="end" >60</text>
<line x1="34.60" y1="231.44" x2="36.40" y2="231.44" stroke="#222" stroke-width="0.8" />
<text x="33.80" y="233.59" font-size="6.0" fill="#444" text-anchor="end" >80</text>
<line x1="34.60" y1="213.80" x2="36.40" y2="213.80" stroke="#222" stroke-width="0.8" />
<text x="33.80" y="215.95" font-size="6.0" fill="#444" text-anchor="end" >100</text>
<line x1="36.40" y1="302.00" x2="36.40" y2="303.80" stroke="#222" stroke-width="0.8" />
<text x="35.50" y="310.70" font-size="5.8" fill="#333" text-anchor="middle" >10<tspan font-size="3.6" dy="-2.3" fill="#666">-3</tspan></text>
<line x1="51.30" y1="302.00" x2="51.30" y2="303.80" stroke="#222" stroke-width="0.8" />
<text x="50.40" y="310.70" font-size="5.8" fill="#333" text-anchor="middle" >10<tspan font-size="3.6" dy="-2.3" fill="#666">-2</tspan></text>
<line x1="66.20" y1="302.00" x2="66.20" y2="303.80" stroke="#222" stroke-width="0.8" />
<text x="65.30" y="310.70" font-size="5.8" fill="#333" text-anchor="middle" >10<tspan font-size="3.6" dy="-2.3" fill="#666">-1</tspan></text>
<line x1="81.10" y1="302.00" x2="81.10" y2="303.80" stroke="#222" stroke-width="0.8" />
<text x="80.20" y="310.70" font-size="5.8" fill="#333" text-anchor="middle" >10<tspan font-size="3.6" dy="-2.3" fill="#666">0</tspan></text>
<line x1="96.00" y1="302.00" x2="96.00" y2="303.80" stroke="#222" stroke-width="0.8" />
<text x="95.10" y="310.70" font-size="5.8" fill="#333" text-anchor="middle" >10<tspan font-size="3.6" dy="-2.3" fill="#666">1</tspan></text>
<line x1="110.90" y1="302.00" x2="110.90" y2="303.80" stroke="#222" stroke-width="0.8" />
<text x="110.00" y="310.70" font-size="5.8" fill="#333" text-anchor="middle" >10<tspan font-size="3.6" dy="-2.3" fill="#666">2</tspan></text>
<line x1="125.80" y1="302.00" x2="125.80" y2="303.80" stroke="#222" stroke-width="0.8" />
<text x="124.90" y="310.70" font-size="5.8" fill="#333" text-anchor="middle" >10<tspan font-size="3.6" dy="-2.3" fill="#666">3</tspan></text>
<line x1="140.70" y1="302.00" x2="140.70" y2="303.80" stroke="#222" stroke-width="0.8" />
<text x="139.80" y="310.70" font-size="5.8" fill="#333" text-anchor="middle" >10<tspan font-size="3.6" dy="-2.3" fill="#666">4</tspan></text>
<line x1="155.60" y1="302.00" x2="155.60" y2="303.80" stroke="#222" stroke-width="0.8" />
<text x="154.70" y="310.70" font-size="5.8" fill="#333" text-anchor="middle" >10<tspan font-size="3.6" dy="-2.3" fill="#666">5</tspan></text>
<g transform="translate(20.6,253.80) rotate(-90)"><text x="0" y="0" font-size="7.75" fill="#222" text-anchor="middle">Signal intensity (arb. units)</text></g>
<text x="39.00" y="320.90" font-size="7.6" fill="#222" text-anchor="start" >Concentration of CA19-9 (U mL<tspan font-size="5" dy="-3">-1</tspan><tspan dy="3">)</tspan></text>
<path d="M42.40,296.44 L42.90,296.44 L43.40,296.44 L43.90,296.44 L44.40,296.44 L44.90,296.44 L45.40,296.44 L45.90,296.44 L46.40,296.44 L46.90,296.44 L47.40,296.44 L47.90,296.44 L48.40,296.44 L48.90,296.44 L49.40,296.44 L49.90,296.44 L50.40,296.44 L50.90,296.44 L51.40,296.44 L51.90,296.44 L52.40,296.44 L52.90,296.44 L53.40,296.44 L53.90,296.44 L54.40,296.44 L54.90,296.44 L55.40,296.44 L55.90,296.44 L56.40,296.44 L56.90,296.44 L57.40,296.44 L57.90,296.44 L58.40,296.44 L58.90,296.44 L59.40,296.44 L59.90,296.44 L60.40,296.44 L60.90,296.44 L61.40,296.44 L61.90,296.44 L62.40,296.44 L62.90,296.44 L63.40,296.44 L63.90,296.44 L64.40,296.44 L64.90,296.44 L65.40,296.44 L65.90,296.44 L66.40,296.44 L66.90,296.44 L67.40,296.44 L67.90,296.44 L68.40,296.44 L68.90,296.44 L69.40,296.44 L69.90,296.44 L70.40,296.44 L70.90,296.44 L71.40,296.44 L71.90,296.44 L72.40,296.44 L72.90,296.44 L73.40,296.44 L73.90,296.44 L74.40,296.44 L74.90,296.44 L75.40,296.44 L75.90,296.44 L76.40,296.44 L76.90,296.44 L77.40,296.44 L77.90,296.44 L78.40,296.44 L78.90,296.44 L79.40,296.44 L79.90,296.44 L80.40,296.44 L80.90,296.44 L81.40,296.44 L81.90,296.44 L82.40,296.44 L82.90,296.44 L83.40,296.44 L83.90,296.44 L84.40,296.44 L84.90,296.44 L85.40,296.44 L85.90,296.43 L86.40,296.43 L86.90,296.43 L87.40,296.43 L87.90,296.43 L88.40,296.43 L88.90,296.43 L89.40,296.43 L89.90,296.42 L90.40,296.42 L90.90,296.42 L91.40,296.42 L91.90,296.41 L92.40,296.41 L92.90,296.41 L93.40,296.40 L93.90,296.40 L94.40,296.39 L94.90,296.39 L95.40,296.38 L95.90,296.38 L96.40,296.37 L96.90,296.36 L97.40,296.35 L97.90,296.34 L98.40,296.33 L98.90,296.32 L99.40,296.31 L99.90,296.29 L100.40,296.28 L100.90,296.26 L101.40,296.24 L101.90,296.22 L102.40,296.19 L102.90,296.16 L103.40,296.13 L103.90,296.10 L104.40,296.07 L104.90,296.03 L105.40,295.98 L105.90,295.93 L106.40,295.88 L106.90,295.82 L107.40,295.75 L107.90,295.68 L108.40,295.60 L108.90,295.52 L109.40,295.42 L109.90,295.32 L110.40,295.20 L110.90,295.08 L111.40,294.94 L111.90,294.79 L112.40,294.63 L112.90,294.45 L113.40,294.26 L113.90,294.05 L114.40,293.82 L114.90,293.57 L115.40,293.31 L115.90,293.02 L116.40,292.72 L116.90,292.39 L117.40,292.04 L117.90,291.67 L118.40,291.28 L118.90,290.86 L119.40,290.43 L119.90,289.97 L120.40,289.49 L120.90,289.00 L121.40,288.49 L121.90,287.97 L122.40,287.43 L122.90,286.88 L123.40,286.33 L123.90,285.77 L124.40,285.22 L124.90,284.66 L125.40,284.11 L125.90,283.56 L126.40,283.03 L126.90,282.51 L127.40,282.00 L127.90,281.51 L128.40,281.04 L128.90,280.59 L129.40,280.16 L129.90,279.75 L130.40,279.36 L130.90,278.99 L131.40,278.65 L131.90,278.32 L132.40,278.02 L132.90,277.74 L133.40,277.48 L133.90,277.24 L134.40,277.01 L134.90,276.81 L135.40,276.62 L135.90,276.44 L136.40,276.28 L136.90,276.13 L137.40,276.00 L137.90,275.87 L138.40,275.76 L138.90,275.66 L139.40,275.57 L139.90,275.48 L140.40,275.40 L140.90,275.33 L141.40,275.27 L141.90,275.21 L142.40,275.16 L142.90,275.11 L143.40,275.07 L143.90,275.03 L144.40,274.99 L144.90,274.96 L145.40,274.93 L145.90,274.91 L146.40,274.88 L146.90,274.86 L147.40,274.84 L147.90,274.82 L148.40,274.81 L148.90,274.79 L149.40,274.78 L149.90,274.77 L150.40,274.76 L150.90,274.75 L151.40,274.74 L151.90,274.73 L152.40,274.72" stroke="#f47c7c" stroke-width="1.6" fill="none" />
<path d="M42.40,289.19 L42.90,289.19 L43.40,289.19 L43.90,289.19 L44.40,289.19 L44.90,289.19 L45.40,289.19 L45.90,289.18 L46.40,289.18 L46.90,289.18 L47.40,289.18 L47.90,289.18 L48.40,289.17 L48.90,289.17 L49.40,289.17 L49.90,289.16 L50.40,289.16 L50.90,289.16 L51.40,289.15 L51.90,289.15 L52.40,289.14 L52.90,289.14 L53.40,289.13 L53.90,289.13 L54.40,289.12 L54.90,289.11 L55.40,289.11 L55.90,289.10 L56.40,289.09 L56.90,289.08 L57.40,289.07 L57.90,289.06 L58.40,289.05 L58.90,289.04 L59.40,289.03 L59.90,289.01 L60.40,289.00 L60.90,288.98 L61.40,288.97 L61.90,288.95 L62.40,288.93 L62.90,288.91 L63.40,288.88 L63.90,288.86 L64.40,288.83 L64.90,288.81 L65.40,288.78 L65.90,288.74 L66.40,288.71 L66.90,288.67 L67.40,288.63 L67.90,288.59 L68.40,288.55 L68.90,288.50 L69.40,288.45 L69.90,288.39 L70.40,288.33 L70.90,288.27 L71.40,288.20 L71.90,288.12 L72.40,288.04 L72.90,287.96 L73.40,287.87 L73.90,287.77 L74.40,287.67 L74.90,287.56 L75.40,287.44 L75.90,287.31 L76.40,287.18 L76.90,287.03 L77.40,286.88 L77.90,286.71 L78.40,286.53 L78.90,286.34 L79.40,286.14 L79.90,285.93 L80.40,285.70 L80.90,285.45 L81.40,285.19 L81.90,284.92 L82.40,284.62 L82.90,284.31 L83.40,283.98 L83.90,283.63 L84.40,283.25 L84.90,282.86 L85.40,282.44 L85.90,282.00 L86.40,281.53 L86.90,281.04 L87.40,280.52 L87.90,279.97 L88.40,279.39 L88.90,278.79 L89.40,278.16 L89.90,277.50 L90.40,276.80 L90.90,276.08 L91.40,275.33 L91.90,274.55 L92.40,273.74 L92.90,272.90 L93.40,272.03 L93.90,271.13 L94.40,270.21 L94.90,269.26 L95.40,268.28 L95.90,267.29 L96.40,266.27 L96.90,265.24 L97.40,264.19 L97.90,263.12 L98.40,262.05 L98.90,260.96 L99.40,259.87 L99.90,258.78 L100.40,257.69 L100.90,256.59 L101.40,255.51 L101.90,254.43 L102.40,253.36 L102.90,252.30 L103.40,251.26 L103.90,250.24 L104.40,249.23 L104.90,248.25 L105.40,247.29 L105.90,246.36 L106.40,245.45 L106.90,244.57 L107.40,243.72 L107.90,242.89 L108.40,242.10 L108.90,241.34 L109.40,240.60 L109.90,239.90 L110.40,239.23 L110.90,238.58 L111.40,237.97 L111.90,237.38 L112.40,236.82 L112.90,236.29 L113.40,235.79 L113.90,235.31 L114.40,234.86 L114.90,234.43 L115.40,234.03 L115.90,233.64 L116.40,233.28 L116.90,232.94 L117.40,232.62 L117.90,232.32 L118.40,232.04 L118.90,231.77 L119.40,231.52 L119.90,231.29 L120.40,231.07 L120.90,230.86 L121.40,230.66 L121.90,230.48 L122.40,230.31 L122.90,230.15 L123.40,230.00 L123.90,229.86 L124.40,229.73 L124.90,229.61 L125.40,229.50 L125.90,229.39 L126.40,229.29 L126.90,229.20 L127.40,229.11 L127.90,229.03 L128.40,228.95 L128.90,228.88 L129.40,228.82 L129.90,228.76 L130.40,228.70 L130.90,228.65 L131.40,228.60 L131.90,228.55 L132.40,228.51 L132.90,228.46 L133.40,228.43 L133.90,228.39 L134.40,228.36 L134.90,228.33 L135.40,228.30 L135.90,228.27 L136.40,228.25 L136.90,228.23 L137.40,228.20 L137.90,228.18 L138.40,228.17 L138.90,228.15 L139.40,228.13 L139.90,228.12 L140.40,228.10 L140.90,228.09 L141.40,228.08 L141.90,228.07 L142.40,228.06 L142.90,228.05 L143.40,228.04 L143.90,228.03 L144.40,228.02 L144.90,228.01 L145.40,228.01 L145.90,228.00 L146.40,227.99 L146.90,227.99 L147.40,227.98 L147.90,227.98 L148.40,227.97 L148.90,227.97 L149.40,227.96 L149.90,227.96 L150.40,227.96 L150.90,227.95 L151.40,227.95 L151.90,227.95 L152.40,227.95" stroke="#1a6ff0" stroke-width="1.6" fill="none" />
<line x1="45.00" y1="295.14" x2="45.00" y2="297.74" stroke="#444" stroke-width="0.6" />
<line x1="44.10" y1="295.14" x2="45.90" y2="295.14" stroke="#444" stroke-width="0.6" />
<line x1="44.10" y1="297.74" x2="45.90" y2="297.74" stroke="#444" stroke-width="0.6" />
<circle cx="45.00" cy="296.44" r="2.35" fill="none" stroke="#f47c7c" stroke-width="1.0"/>
<line x1="59.77" y1="295.14" x2="59.77" y2="297.74" stroke="#444" stroke-width="0.6" />
<line x1="58.87" y1="295.14" x2="60.67" y2="295.14" stroke="#444" stroke-width="0.6" />
<line x1="58.87" y1="297.74" x2="60.67" y2="297.74" stroke="#444" stroke-width="0.6" />
<circle cx="59.77" cy="296.44" r="2.35" fill="none" stroke="#f47c7c" stroke-width="1.0"/>
<line x1="74.54" y1="294.88" x2="74.54" y2="297.48" stroke="#444" stroke-width="0.6" />
<line x1="73.64" y1="294.88" x2="75.44" y2="294.88" stroke="#444" stroke-width="0.6" />
<line x1="73.64" y1="297.48" x2="75.44" y2="297.48" stroke="#444" stroke-width="0.6" />
<circle cx="74.54" cy="296.18" r="2.35" fill="none" stroke="#f47c7c" stroke-width="1.0"/>
<line x1="89.31" y1="294.44" x2="89.31" y2="297.04" stroke="#444" stroke-width="0.6" />
<line x1="88.41" y1="294.44" x2="90.21" y2="294.44" stroke="#444" stroke-width="0.6" />
<line x1="88.41" y1="297.04" x2="90.21" y2="297.04" stroke="#444" stroke-width="0.6" />
<circle cx="89.31" cy="295.74" r="2.35" fill="none" stroke="#f47c7c" stroke-width="1.0"/>
<line x1="104.08" y1="291.00" x2="104.08" y2="293.60" stroke="#444" stroke-width="0.6" />
<line x1="103.18" y1="291.00" x2="104.98" y2="291.00" stroke="#444" stroke-width="0.6" />
<line x1="103.18" y1="293.60" x2="104.98" y2="293.60" stroke="#444" stroke-width="0.6" />
<circle cx="104.08" cy="292.30" r="2.35" fill="none" stroke="#f47c7c" stroke-width="1.0"/>
<line x1="118.85" y1="289.06" x2="118.85" y2="291.66" stroke="#444" stroke-width="0.6" />
<line x1="117.95" y1="289.06" x2="119.75" y2="289.06" stroke="#444" stroke-width="0.6" />
<line x1="117.95" y1="291.66" x2="119.75" y2="291.66" stroke="#444" stroke-width="0.6" />
<circle cx="118.85" cy="290.36" r="2.35" fill="none" stroke="#f47c7c" stroke-width="1.0"/>
<line x1="133.62" y1="275.74" x2="133.62" y2="278.34" stroke="#444" stroke-width="0.6" />
<line x1="132.72" y1="275.74" x2="134.52" y2="275.74" stroke="#444" stroke-width="0.6" />
<line x1="132.72" y1="278.34" x2="134.52" y2="278.34" stroke="#444" stroke-width="0.6" />
<circle cx="133.62" cy="277.04" r="2.35" fill="none" stroke="#f47c7c" stroke-width="1.0"/>
<line x1="148.39" y1="273.62" x2="148.39" y2="276.22" stroke="#444" stroke-width="0.6" />
<line x1="147.49" y1="273.62" x2="149.29" y2="273.62" stroke="#444" stroke-width="0.6" />
<line x1="147.49" y1="276.22" x2="149.29" y2="276.22" stroke="#444" stroke-width="0.6" />
<circle cx="148.39" cy="274.92" r="2.35" fill="none" stroke="#f47c7c" stroke-width="1.0"/>
<line x1="45.00" y1="287.73" x2="45.00" y2="290.33" stroke="#444" stroke-width="0.6" />
<line x1="44.10" y1="287.73" x2="45.90" y2="287.73" stroke="#444" stroke-width="0.6" />
<line x1="44.10" y1="290.33" x2="45.90" y2="290.33" stroke="#444" stroke-width="0.6" />
<circle cx="45.00" cy="289.03" r="2.35" fill="none" stroke="#1a6ff0" stroke-width="1.0"/>
<line x1="59.77" y1="287.73" x2="59.77" y2="290.33" stroke="#444" stroke-width="0.6" />
<line x1="58.87" y1="287.73" x2="60.67" y2="287.73" stroke="#444" stroke-width="0.6" />
<line x1="58.87" y1="290.33" x2="60.67" y2="290.33" stroke="#444" stroke-width="0.6" />
<circle cx="59.77" cy="289.03" r="2.35" fill="none" stroke="#1a6ff0" stroke-width="1.0"/>
<line x1="74.54" y1="281.47" x2="74.54" y2="284.07" stroke="#444" stroke-width="0.6" />
<line x1="73.64" y1="281.47" x2="75.44" y2="281.47" stroke="#444" stroke-width="0.6" />
<line x1="73.64" y1="284.07" x2="75.44" y2="284.07" stroke="#444" stroke-width="0.6" />
<circle cx="74.54" cy="282.77" r="2.35" fill="none" stroke="#1a6ff0" stroke-width="1.0"/>
<line x1="89.31" y1="275.21" x2="89.31" y2="277.81" stroke="#444" stroke-width="0.6" />
<line x1="88.41" y1="275.21" x2="90.21" y2="275.21" stroke="#444" stroke-width="0.6" />
<line x1="88.41" y1="277.81" x2="90.21" y2="277.81" stroke="#444" stroke-width="0.6" />
<circle cx="89.31" cy="276.51" r="2.35" fill="none" stroke="#1a6ff0" stroke-width="1.0"/>
<line x1="104.08" y1="251.04" x2="104.08" y2="253.64" stroke="#444" stroke-width="0.6" />
<line x1="103.18" y1="251.04" x2="104.98" y2="251.04" stroke="#444" stroke-width="0.6" />
<line x1="103.18" y1="253.64" x2="104.98" y2="253.64" stroke="#444" stroke-width="0.6" />
<circle cx="104.08" cy="252.34" r="2.35" fill="none" stroke="#1a6ff0" stroke-width="1.0"/>
<line x1="118.85" y1="230.14" x2="118.85" y2="232.74" stroke="#444" stroke-width="0.6" />
<line x1="117.95" y1="230.14" x2="119.75" y2="230.14" stroke="#444" stroke-width="0.6" />
<line x1="117.95" y1="232.74" x2="119.75" y2="232.74" stroke="#444" stroke-width="0.6" />
<circle cx="118.85" cy="231.44" r="2.35" fill="none" stroke="#1a6ff0" stroke-width="1.0"/>
<line x1="133.62" y1="228.64" x2="133.62" y2="231.24" stroke="#444" stroke-width="0.6" />
<line x1="132.72" y1="228.64" x2="134.52" y2="228.64" stroke="#444" stroke-width="0.6" />
<line x1="132.72" y1="231.24" x2="134.52" y2="231.24" stroke="#444" stroke-width="0.6" />
<circle cx="133.62" cy="229.94" r="2.35" fill="none" stroke="#1a6ff0" stroke-width="1.0"/>
<line x1="148.39" y1="225.91" x2="148.39" y2="228.51" stroke="#444" stroke-width="0.6" />
<line x1="147.49" y1="225.91" x2="149.29" y2="225.91" stroke="#444" stroke-width="0.6" />
<line x1="147.49" y1="228.51" x2="149.29" y2="228.51" stroke="#444" stroke-width="0.6" />
<circle cx="148.39" cy="227.21" r="2.35" fill="none" stroke="#1a6ff0" stroke-width="1.0"/>
<line x1="40.70" y1="221.20" x2="55.90" y2="221.20" stroke="#1a6ff0" stroke-width="1.4" />
<circle cx="48.40" cy="221.2" r="2.2" fill="#fff" stroke="#1a6ff0" stroke-width="1.1"/>
<text x="58.90" y="223.60" font-size="6.8" fill="#222" text-anchor="start" >SELFI</text>
<line x1="40.70" y1="229.20" x2="55.90" y2="229.20" stroke="#f47c7c" stroke-width="1.4" />
<circle cx="48.40" cy="229.2" r="2.2" fill="#fff" stroke="#f47c7c" stroke-width="1.1"/>
<text x="58.90" y="231.60" font-size="6.8" fill="#222" text-anchor="start" >LFIA</text>
<text x="171.30" y="209.70" font-size="13.5" fill="#231f20" font-weight="bold" text-anchor="start" >e</text>
<text x="265.90" y="210.20" font-size="8.6" fill="#231f20" font-weight="bold" text-anchor="middle" >PSA</text>
<rect x="207.8" y="213.8" width="119.40" height="88.20" fill="none" stroke="#5a5a5a" stroke-width="0.9"/>
<line x1="207.80" y1="213.80" x2="207.80" y2="302.00" stroke="#222" stroke-width="1.0" />
<line x1="207.80" y1="302.00" x2="327.20" y2="302.00" stroke="#222" stroke-width="1.0" />
<line x1="206.00" y1="302.00" x2="207.80" y2="302.00" stroke="#222" stroke-width="0.8" />
<text x="205.20" y="304.15" font-size="6.0" fill="#444" text-anchor="end" >0</text>
<line x1="206.00" y1="288.50" x2="207.80" y2="288.50" stroke="#222" stroke-width="0.8" />
<text x="205.20" y="290.65" font-size="6.0" fill="#444" text-anchor="end" >20</text>
<line x1="206.00" y1="275.00" x2="207.80" y2="275.00" stroke="#222" stroke-width="0.8" />
<text x="205.20" y="277.15" font-size="6.0" fill="#444" text-anchor="end" >40</text>
<line x1="206.00" y1="261.50" x2="207.80" y2="261.50" stroke="#222" stroke-width="0.8" />
<text x="205.20" y="263.65" font-size="6.0" fill="#444" text-anchor="end" >60</text>
<line x1="206.00" y1="248.00" x2="207.80" y2="248.00" stroke="#222" stroke-width="0.8" />
<text x="205.20" y="250.15" font-size="6.0" fill="#444" text-anchor="end" >80</text>
<line x1="206.00" y1="234.50" x2="207.80" y2="234.50" stroke="#222" stroke-width="0.8" />
<text x="205.20" y="236.65" font-size="6.0" fill="#444" text-anchor="end" >100</text>
<line x1="206.00" y1="221.00" x2="207.80" y2="221.00" stroke="#222" stroke-width="0.8" />
<text x="205.20" y="223.15" font-size="6.0" fill="#444" text-anchor="end" >120</text>
<line x1="207.90" y1="302.00" x2="207.90" y2="303.80" stroke="#222" stroke-width="0.8" />
<text x="207.00" y="310.70" font-size="5.8" fill="#333" text-anchor="middle" >10<tspan font-size="3.6" dy="-2.3" fill="#666">-3</tspan></text>
<line x1="223.07" y1="302.00" x2="223.07" y2="303.80" stroke="#222" stroke-width="0.8" />
<text x="222.17" y="310.70" font-size="5.8" fill="#333" text-anchor="middle" >10<tspan font-size="3.6" dy="-2.3" fill="#666">-2</tspan></text>
<line x1="238.24" y1="302.00" x2="238.24" y2="303.80" stroke="#222" stroke-width="0.8" />
<text x="237.34" y="310.70" font-size="5.8" fill="#333" text-anchor="middle" >10<tspan font-size="3.6" dy="-2.3" fill="#666">-1</tspan></text>
<line x1="253.41" y1="302.00" x2="253.41" y2="303.80" stroke="#222" stroke-width="0.8" />
<text x="252.51" y="310.70" font-size="5.8" fill="#333" text-anchor="middle" >10<tspan font-size="3.6" dy="-2.3" fill="#666">0</tspan></text>
<line x1="268.58" y1="302.00" x2="268.58" y2="303.80" stroke="#222" stroke-width="0.8" />
<text x="267.68" y="310.70" font-size="5.8" fill="#333" text-anchor="middle" >10<tspan font-size="3.6" dy="-2.3" fill="#666">1</tspan></text>
<line x1="283.75" y1="302.00" x2="283.75" y2="303.80" stroke="#222" stroke-width="0.8" />
<text x="282.85" y="310.70" font-size="5.8" fill="#333" text-anchor="middle" >10<tspan font-size="3.6" dy="-2.3" fill="#666">2</tspan></text>
<line x1="298.92" y1="302.00" x2="298.92" y2="303.80" stroke="#222" stroke-width="0.8" />
<text x="298.02" y="310.70" font-size="5.8" fill="#333" text-anchor="middle" >10<tspan font-size="3.6" dy="-2.3" fill="#666">3</tspan></text>
<line x1="314.09" y1="302.00" x2="314.09" y2="303.80" stroke="#222" stroke-width="0.8" />
<text x="313.19" y="310.70" font-size="5.8" fill="#333" text-anchor="middle" >10<tspan font-size="3.6" dy="-2.3" fill="#666">4</tspan></text>
<g transform="translate(190.2,258.40) rotate(-90)"><text x="0" y="0" font-size="8.3" fill="#222" text-anchor="middle">Signal intensity (arb. units)</text></g>
<text x="210.20" y="323.00" font-size="8.2" fill="#222" text-anchor="start" >Concentration of PSA (ng mL<tspan font-size="5" dy="-3">-1</tspan><tspan dy="3">)</tspan></text>
<path d="M213.80,296.60 L214.30,296.60 L214.80,296.60 L215.30,296.60 L215.80,296.60 L216.30,296.60 L216.80,296.60 L217.30,296.60 L217.80,296.60 L218.30,296.60 L218.80,296.60 L219.30,296.59 L219.80,296.59 L220.30,296.59 L220.80,296.59 L221.30,296.59 L221.80,296.59 L222.30,296.59 L222.80,296.59 L223.30,296.59 L223.80,296.59 L224.30,296.59 L224.80,296.59 L225.30,296.59 L225.80,296.59 L226.30,296.59 L226.80,296.59 L227.30,296.59 L227.80,296.59 L228.30,296.59 L228.80,296.59 L229.30,296.59 L229.80,296.59 L230.30,296.58 L230.80,296.58 L231.30,296.58 L231.80,296.58 L232.30,296.58 L232.80,296.58 L233.30,296.58 L233.80,296.58 L234.30,296.58 L234.80,296.58 L235.30,296.57 L235.80,296.57 L236.30,296.57 L236.80,296.57 L237.30,296.57 L237.80,296.57 L238.30,296.57 L238.80,296.56 L239.30,296.56 L239.80,296.56 L240.30,296.56 L240.80,296.56 L241.30,296.55 L241.80,296.55 L242.30,296.55 L242.80,296.55 L243.30,296.54 L243.80,296.54 L244.30,296.54 L244.80,296.53 L245.30,296.53 L245.80,296.53 L246.30,296.52 L246.80,296.52 L247.30,296.51 L247.80,296.51 L248.30,296.51 L248.80,296.50 L249.30,296.50 L249.80,296.49 L250.30,296.48 L250.80,296.48 L251.30,296.47 L251.80,296.47 L252.30,296.46 L252.80,296.45 L253.30,296.44 L253.80,296.44 L254.30,296.43 L254.80,296.42 L255.30,296.41 L255.80,296.40 L256.30,296.39 L256.80,296.38 L257.30,296.37 L257.80,296.36 L258.30,296.34 L258.80,296.33 L259.30,296.32 L259.80,296.30 L260.30,296.29 L260.80,296.27 L261.30,296.25 L261.80,296.24 L262.30,296.22 L262.80,296.20 L263.30,296.18 L263.80,296.16 L264.30,296.13 L264.80,296.11 L265.30,296.09 L265.80,296.06 L266.30,296.03 L266.80,296.00 L267.30,295.97 L267.80,295.94 L268.30,295.91 L268.80,295.87 L269.30,295.84 L269.80,295.80 L270.30,295.76 L270.80,295.72 L271.30,295.67 L271.80,295.62 L272.30,295.57 L272.80,295.52 L273.30,295.47 L273.80,295.41 L274.30,295.35 L274.80,295.29 L275.30,295.22 L275.80,295.16 L276.30,295.08 L276.80,295.01 L277.30,294.93 L277.80,294.85 L278.30,294.76 L278.80,294.67 L279.30,294.57 L279.80,294.47 L280.30,294.37 L280.80,294.26 L281.30,294.14 L281.80,294.02 L282.30,293.90 L282.80,293.77 L283.30,293.63 L283.80,293.49 L284.30,293.34 L284.80,293.18 L285.30,293.02 L285.80,292.84 L286.30,292.66 L286.80,292.48 L287.30,292.28 L287.80,292.08 L288.30,291.87 L288.80,291.65 L289.30,291.42 L289.80,291.18 L290.30,290.93 L290.80,290.67 L291.30,290.40 L291.80,290.12 L292.30,289.83 L292.80,289.52 L293.30,289.21 L293.80,288.88 L294.30,288.54 L294.80,288.19 L295.30,287.83 L295.80,287.46 L296.30,287.07 L296.80,286.67 L297.30,286.25 L297.80,285.83 L298.30,285.38 L298.80,284.93 L299.30,284.46 L299.80,283.98 L300.30,283.49 L300.80,282.98 L301.30,282.46 L301.80,281.93 L302.30,281.39 L302.80,280.83 L303.30,280.26 L303.80,279.68 L304.30,279.08 L304.80,278.48 L305.30,277.86 L305.80,277.24 L306.30,276.61 L306.80,275.96 L307.30,275.31 L307.80,274.65 L308.30,273.99 L308.80,273.32 L309.30,272.64 L309.80,271.96 L310.30,271.27 L310.80,270.58 L311.30,269.89 L311.80,269.20 L312.30,268.51 L312.80,267.82 L313.30,267.13 L313.80,266.44 L314.30,265.76 L314.80,265.08 L315.30,264.40 L315.80,263.73 L316.30,263.06 L316.80,262.41 L317.30,261.76 L317.80,261.12 L318.30,260.48 L318.80,259.86 L319.30,259.25 L319.80,258.65 L320.30,258.06 L320.80,257.48 L321.30,256.91 L321.80,256.35 L322.30,255.81 L322.80,255.28 L323.30,254.76 L323.80,254.26" stroke="#f47c7c" stroke-width="1.6" fill="none" />
<path d="M213.80,293.11 L214.30,293.11 L214.80,293.10 L215.30,293.10 L215.80,293.09 L216.30,293.09 L216.80,293.08 L217.30,293.07 L217.80,293.07 L218.30,293.06 L218.80,293.05 L219.30,293.05 L219.80,293.04 L220.30,293.03 L220.80,293.02 L221.30,293.01 L221.80,293.00 L222.30,293.00 L222.80,292.99 L223.30,292.98 L223.80,292.96 L224.30,292.95 L224.80,292.94 L225.30,292.93 L225.80,292.92 L226.30,292.90 L226.80,292.89 L227.30,292.88 L227.80,292.86 L228.30,292.85 L228.80,292.83 L229.30,292.81 L229.80,292.80 L230.30,292.78 L230.80,292.76 L231.30,292.74 L231.80,292.72 L232.30,292.70 L232.80,292.68 L233.30,292.65 L233.80,292.63 L234.30,292.60 L234.80,292.58 L235.30,292.55 L235.80,292.52 L236.30,292.49 L236.80,292.46 L237.30,292.43 L237.80,292.40 L238.30,292.36 L238.80,292.33 L239.30,292.29 L239.80,292.25 L240.30,292.21 L240.80,292.16 L241.30,292.12 L241.80,292.07 L242.30,292.03 L242.80,291.98 L243.30,291.92 L243.80,291.87 L244.30,291.81 L244.80,291.75 L245.30,291.69 L245.80,291.63 L246.30,291.56 L246.80,291.49 L247.30,291.42 L247.80,291.35 L248.30,291.27 L248.80,291.19 L249.30,291.10 L249.80,291.02 L250.30,290.92 L250.80,290.83 L251.30,290.73 L251.80,290.63 L252.30,290.52 L252.80,290.41 L253.30,290.30 L253.80,290.18 L254.30,290.05 L254.80,289.92 L255.30,289.79 L255.80,289.65 L256.30,289.51 L256.80,289.36 L257.30,289.20 L257.80,289.04 L258.30,288.87 L258.80,288.70 L259.30,288.52 L259.80,288.33 L260.30,288.14 L260.80,287.94 L261.30,287.73 L261.80,287.51 L262.30,287.29 L262.80,287.06 L263.30,286.82 L263.80,286.57 L264.30,286.31 L264.80,286.05 L265.30,285.78 L265.80,285.49 L266.30,285.20 L266.80,284.90 L267.30,284.58 L267.80,284.26 L268.30,283.93 L268.80,283.58 L269.30,283.23 L269.80,282.86 L270.30,282.49 L270.80,282.10 L271.30,281.70 L271.80,281.29 L272.30,280.87 L272.80,280.43 L273.30,279.98 L273.80,279.53 L274.30,279.06 L274.80,278.57 L275.30,278.08 L275.80,277.57 L276.30,277.05 L276.80,276.52 L277.30,275.98 L277.80,275.42 L278.30,274.85 L278.80,274.27 L279.30,273.68 L279.80,273.07 L280.30,272.46 L280.80,271.83 L281.30,271.19 L281.80,270.55 L282.30,269.89 L282.80,269.22 L283.30,268.54 L283.80,267.85 L284.30,267.15 L284.80,266.45 L285.30,265.74 L285.80,265.01 L286.30,264.29 L286.80,263.55 L287.30,262.81 L287.80,262.06 L288.30,261.31 L288.80,260.56 L289.30,259.80 L289.80,259.04 L290.30,258.28 L290.80,257.51 L291.30,256.74 L291.80,255.98 L292.30,255.21 L292.80,254.45 L293.30,253.68 L293.80,252.92 L294.30,252.16 L294.80,251.41 L295.30,250.66 L295.80,249.92 L296.30,249.18 L296.80,248.44 L297.30,247.72 L297.80,247.00 L298.30,246.28 L298.80,245.58 L299.30,244.89 L299.80,244.20 L300.30,243.52 L300.80,242.86 L301.30,242.20 L301.80,241.55 L302.30,240.92 L302.80,240.29 L303.30,239.68 L303.80,239.08 L304.30,238.49 L304.80,237.91 L305.30,237.34 L305.80,236.79 L306.30,236.25 L306.80,235.72 L307.30,235.20 L307.80,234.70 L308.30,234.20 L308.80,233.72 L309.30,233.26 L309.80,232.80 L310.30,232.36 L310.80,231.92 L311.30,231.50 L311.80,231.10 L312.30,230.70 L312.80,230.31 L313.30,229.94 L313.80,229.58 L314.30,229.22 L314.80,228.88 L315.30,228.55 L315.80,228.23 L316.30,227.92 L316.80,227.62 L317.30,227.33 L317.80,227.04 L318.30,226.77 L318.80,226.51 L319.30,226.25 L319.80,226.01 L320.30,225.77 L320.80,225.54 L321.30,225.32 L321.80,225.10 L322.30,224.90 L322.80,224.70 L323.30,224.51 L323.80,224.32" stroke="#1a6ff0" stroke-width="1.6" fill="none" />
<line x1="216.70" y1="295.30" x2="216.70" y2="297.90" stroke="#444" stroke-width="0.6" />
<line x1="215.80" y1="295.30" x2="217.60" y2="295.30" stroke="#444" stroke-width="0.6" />
<line x1="215.80" y1="297.90" x2="217.60" y2="297.90" stroke="#444" stroke-width="0.6" />
<circle cx="216.70" cy="296.60" r="2.35" fill="none" stroke="#f47c7c" stroke-width="1.0"/>
<line x1="231.80" y1="295.30" x2="231.80" y2="297.90" stroke="#444" stroke-width="0.6" />
<line x1="230.90" y1="295.30" x2="232.70" y2="295.30" stroke="#444" stroke-width="0.6" />
<line x1="230.90" y1="297.90" x2="232.70" y2="297.90" stroke="#444" stroke-width="0.6" />
<circle cx="231.80" cy="296.60" r="2.35" fill="none" stroke="#f47c7c" stroke-width="1.0"/>
<line x1="246.90" y1="294.89" x2="246.90" y2="297.50" stroke="#444" stroke-width="0.6" />
<line x1="246.00" y1="294.89" x2="247.80" y2="294.89" stroke="#444" stroke-width="0.6" />
<line x1="246.00" y1="297.50" x2="247.80" y2="297.50" stroke="#444" stroke-width="0.6" />
<circle cx="246.90" cy="296.19" r="2.35" fill="none" stroke="#f47c7c" stroke-width="1.0"/>
<line x1="262.00" y1="294.22" x2="262.00" y2="296.82" stroke="#444" stroke-width="0.6" />
<line x1="261.10" y1="294.22" x2="262.90" y2="294.22" stroke="#444" stroke-width="0.6" />
<line x1="261.10" y1="296.82" x2="262.90" y2="296.82" stroke="#444" stroke-width="0.6" />
<circle cx="262.00" cy="295.52" r="2.35" fill="none" stroke="#f47c7c" stroke-width="1.0"/>
<line x1="277.10" y1="290.71" x2="277.10" y2="293.31" stroke="#444" stroke-width="0.6" />
<line x1="276.20" y1="290.71" x2="278.00" y2="290.71" stroke="#444" stroke-width="0.6" />
<line x1="276.20" y1="293.31" x2="278.00" y2="293.31" stroke="#444" stroke-width="0.6" />
<circle cx="277.10" cy="292.01" r="2.35" fill="none" stroke="#f47c7c" stroke-width="1.0"/>
<line x1="292.20" y1="290.17" x2="292.20" y2="292.77" stroke="#444" stroke-width="0.6" />
<line x1="291.30" y1="290.17" x2="293.10" y2="290.17" stroke="#444" stroke-width="0.6" />
<line x1="291.30" y1="292.77" x2="293.10" y2="292.77" stroke="#444" stroke-width="0.6" />
<circle cx="292.20" cy="291.47" r="2.35" fill="none" stroke="#f47c7c" stroke-width="1.0"/>
<line x1="307.30" y1="273.43" x2="307.30" y2="276.03" stroke="#444" stroke-width="0.6" />
<line x1="306.40" y1="273.43" x2="308.20" y2="273.43" stroke="#444" stroke-width="0.6" />
<line x1="306.40" y1="276.03" x2="308.20" y2="276.03" stroke="#444" stroke-width="0.6" />
<circle cx="307.30" cy="274.73" r="2.35" fill="none" stroke="#f47c7c" stroke-width="1.0"/>
<line x1="322.40" y1="253.45" x2="322.40" y2="256.05" stroke="#444" stroke-width="0.6" />
<line x1="321.50" y1="253.45" x2="323.30" y2="253.45" stroke="#444" stroke-width="0.6" />
<line x1="321.50" y1="256.05" x2="323.30" y2="256.05" stroke="#444" stroke-width="0.6" />
<circle cx="322.40" cy="254.75" r="2.35" fill="none" stroke="#f47c7c" stroke-width="1.0"/>
<line x1="216.70" y1="290.71" x2="216.70" y2="293.31" stroke="#444" stroke-width="0.6" />
<line x1="215.80" y1="290.71" x2="217.60" y2="290.71" stroke="#444" stroke-width="0.6" />
<line x1="215.80" y1="293.31" x2="217.60" y2="293.31" stroke="#444" stroke-width="0.6" />
<circle cx="216.70" cy="292.01" r="2.35" fill="none" stroke="#1a6ff0" stroke-width="1.0"/>
<line x1="231.80" y1="288.21" x2="231.80" y2="290.81" stroke="#444" stroke-width="0.6" />
<line x1="230.90" y1="288.21" x2="232.70" y2="288.21" stroke="#444" stroke-width="0.6" />
<line x1="230.90" y1="290.81" x2="232.70" y2="290.81" stroke="#444" stroke-width="0.6" />
<circle cx="231.80" cy="289.51" r="2.35" fill="none" stroke="#1a6ff0" stroke-width="1.0"/>
<line x1="246.90" y1="287.20" x2="246.90" y2="289.80" stroke="#444" stroke-width="0.6" />
<line x1="246.00" y1="287.20" x2="247.80" y2="287.20" stroke="#444" stroke-width="0.6" />
<line x1="246.00" y1="289.80" x2="247.80" y2="289.80" stroke="#444" stroke-width="0.6" />
<circle cx="246.90" cy="288.50" r="2.35" fill="none" stroke="#1a6ff0" stroke-width="1.0"/>
<line x1="262.00" y1="286.32" x2="262.00" y2="288.92" stroke="#444" stroke-width="0.6" />
<line x1="261.10" y1="286.32" x2="262.90" y2="286.32" stroke="#444" stroke-width="0.6" />
<line x1="261.10" y1="288.92" x2="262.90" y2="288.92" stroke="#444" stroke-width="0.6" />
<circle cx="262.00" cy="287.62" r="2.35" fill="none" stroke="#1a6ff0" stroke-width="1.0"/>
<line x1="277.10" y1="272.49" x2="277.10" y2="275.09" stroke="#444" stroke-width="0.6" />
<line x1="276.20" y1="272.49" x2="278.00" y2="272.49" stroke="#444" stroke-width="0.6" />
<line x1="276.20" y1="275.09" x2="278.00" y2="275.09" stroke="#444" stroke-width="0.6" />
<circle cx="277.10" cy="273.79" r="2.35" fill="none" stroke="#1a6ff0" stroke-width="1.0"/>
<line x1="292.20" y1="253.31" x2="292.20" y2="255.92" stroke="#444" stroke-width="0.6" />
<line x1="291.30" y1="253.31" x2="293.10" y2="253.31" stroke="#444" stroke-width="0.6" />
<line x1="291.30" y1="255.92" x2="293.10" y2="255.92" stroke="#444" stroke-width="0.6" />
<circle cx="292.20" cy="254.62" r="2.35" fill="none" stroke="#1a6ff0" stroke-width="1.0"/>
<line x1="307.30" y1="224.42" x2="307.30" y2="227.03" stroke="#444" stroke-width="0.6" />
<line x1="306.40" y1="224.42" x2="308.20" y2="224.42" stroke="#444" stroke-width="0.6" />
<line x1="306.40" y1="227.03" x2="308.20" y2="227.03" stroke="#444" stroke-width="0.6" />
<circle cx="307.30" cy="225.72" r="2.35" fill="none" stroke="#1a6ff0" stroke-width="1.0"/>
<line x1="322.40" y1="222.40" x2="322.40" y2="225.00" stroke="#444" stroke-width="0.6" />
<line x1="321.50" y1="222.40" x2="323.30" y2="222.40" stroke="#444" stroke-width="0.6" />
<line x1="321.50" y1="225.00" x2="323.30" y2="225.00" stroke="#444" stroke-width="0.6" />
<circle cx="322.40" cy="223.70" r="2.35" fill="none" stroke="#1a6ff0" stroke-width="1.0"/>
<line x1="212.10" y1="221.20" x2="227.30" y2="221.20" stroke="#1a6ff0" stroke-width="1.4" />
<circle cx="219.80" cy="221.2" r="2.2" fill="#fff" stroke="#1a6ff0" stroke-width="1.1"/>
<text x="230.30" y="223.60" font-size="6.8" fill="#222" text-anchor="start" >SELFI</text>
<line x1="212.10" y1="229.20" x2="227.30" y2="229.20" stroke="#f47c7c" stroke-width="1.4" />
<circle cx="219.80" cy="229.2" r="2.2" fill="#fff" stroke="#f47c7c" stroke-width="1.1"/>
<text x="230.30" y="231.60" font-size="6.8" fill="#222" text-anchor="start" >LFIA</text>
<text x="348.60" y="209.70" font-size="13.5" fill="#231f20" font-weight="bold" text-anchor="start" >f</text>
<text x="438.00" y="210.20" font-size="8.6" fill="#231f20" font-weight="bold" text-anchor="middle" >ICAM-1</text>
<rect x="377.8" y="213.4" width="120.40" height="88.40" fill="none" stroke="#5a5a5a" stroke-width="0.9"/>
<line x1="377.80" y1="213.40" x2="377.80" y2="301.80" stroke="#222" stroke-width="1.0" />
<line x1="377.80" y1="301.80" x2="498.20" y2="301.80" stroke="#222" stroke-width="1.0" />
<line x1="376.00" y1="301.80" x2="377.80" y2="301.80" stroke="#222" stroke-width="0.8" />
<text x="375.20" y="303.95" font-size="6.0" fill="#444" text-anchor="end" >0</text>
<line x1="376.00" y1="289.20" x2="377.80" y2="289.20" stroke="#222" stroke-width="0.8" />
<text x="375.20" y="291.35" font-size="6.0" fill="#444" text-anchor="end" >20</text>
<line x1="376.00" y1="276.60" x2="377.80" y2="276.60" stroke="#222" stroke-width="0.8" />
<text x="375.20" y="278.75" font-size="6.0" fill="#444" text-anchor="end" >40</text>
<line x1="376.00" y1="264.00" x2="377.80" y2="264.00" stroke="#222" stroke-width="0.8" />
<text x="375.20" y="266.15" font-size="6.0" fill="#444" text-anchor="end" >60</text>
<line x1="376.00" y1="251.40" x2="377.80" y2="251.40" stroke="#222" stroke-width="0.8" />
<text x="375.20" y="253.55" font-size="6.0" fill="#444" text-anchor="end" >80</text>
<line x1="376.00" y1="238.80" x2="377.80" y2="238.80" stroke="#222" stroke-width="0.8" />
<text x="375.20" y="240.95" font-size="6.0" fill="#444" text-anchor="end" >100</text>
<line x1="376.00" y1="226.20" x2="377.80" y2="226.20" stroke="#222" stroke-width="0.8" />
<text x="375.20" y="228.35" font-size="6.0" fill="#444" text-anchor="end" >120</text>
<line x1="376.00" y1="213.60" x2="377.80" y2="213.60" stroke="#222" stroke-width="0.8" />
<text x="375.20" y="215.75" font-size="6.0" fill="#444" text-anchor="end" >140</text>
<line x1="378.60" y1="301.80" x2="378.60" y2="303.60" stroke="#222" stroke-width="0.8" />
<text x="377.70" y="310.70" font-size="5.8" fill="#333" text-anchor="middle" >10<tspan font-size="3.6" dy="-2.3" fill="#666">-3</tspan></text>
<line x1="394.37" y1="301.80" x2="394.37" y2="303.60" stroke="#222" stroke-width="0.8" />
<text x="393.47" y="310.70" font-size="5.8" fill="#333" text-anchor="middle" >10<tspan font-size="3.6" dy="-2.3" fill="#666">-2</tspan></text>
<line x1="410.14" y1="301.80" x2="410.14" y2="303.60" stroke="#222" stroke-width="0.8" />
<text x="409.24" y="310.70" font-size="5.8" fill="#333" text-anchor="middle" >10<tspan font-size="3.6" dy="-2.3" fill="#666">-1</tspan></text>
<line x1="425.91" y1="301.80" x2="425.91" y2="303.60" stroke="#222" stroke-width="0.8" />
<text x="425.01" y="310.70" font-size="5.8" fill="#333" text-anchor="middle" >10<tspan font-size="3.6" dy="-2.3" fill="#666">0</tspan></text>
<line x1="441.68" y1="301.80" x2="441.68" y2="303.60" stroke="#222" stroke-width="0.8" />
<text x="440.78" y="310.70" font-size="5.8" fill="#333" text-anchor="middle" >10<tspan font-size="3.6" dy="-2.3" fill="#666">1</tspan></text>
<line x1="457.45" y1="301.80" x2="457.45" y2="303.60" stroke="#222" stroke-width="0.8" />
<text x="456.55" y="310.70" font-size="5.8" fill="#333" text-anchor="middle" >10<tspan font-size="3.6" dy="-2.3" fill="#666">2</tspan></text>
<line x1="473.22" y1="301.80" x2="473.22" y2="303.60" stroke="#222" stroke-width="0.8" />
<text x="472.32" y="310.70" font-size="5.8" fill="#333" text-anchor="middle" >10<tspan font-size="3.6" dy="-2.3" fill="#666">3</tspan></text>
<line x1="488.99" y1="301.80" x2="488.99" y2="303.60" stroke="#222" stroke-width="0.8" />
<text x="488.09" y="310.70" font-size="5.8" fill="#333" text-anchor="middle" >10<tspan font-size="3.6" dy="-2.3" fill="#666">4</tspan></text>
<g transform="translate(361.0,257.90) rotate(-90)"><text x="0" y="0" font-size="8.4" fill="#222" text-anchor="middle">Signal intensity (arb. units)</text></g>
<text x="375.40" y="321.50" font-size="8.2" fill="#222" text-anchor="start" >Concentration of ICAM-1 (ng mL<tspan font-size="5" dy="-3">-1</tspan><tspan dy="3">)</tspan></text>
<path d="M383.80,296.44 L384.30,296.44 L384.80,296.44 L385.30,296.44 L385.80,296.44 L386.30,296.44 L386.80,296.44 L387.30,296.44 L387.80,296.44 L388.30,296.44 L388.80,296.44 L389.30,296.44 L389.80,296.44 L390.30,296.44 L390.80,296.44 L391.30,296.44 L391.80,296.44 L392.30,296.44 L392.80,296.43 L393.30,296.43 L393.80,296.43 L394.30,296.43 L394.80,296.43 L395.30,296.43 L395.80,296.43 L396.30,296.43 L396.80,296.43 L397.30,296.43 L397.80,296.43 L398.30,296.43 L398.80,296.42 L399.30,296.42 L399.80,296.42 L400.30,296.42 L400.80,296.42 L401.30,296.42 L401.80,296.41 L402.30,296.41 L402.80,296.41 L403.30,296.41 L403.80,296.41 L404.30,296.40 L404.80,296.40 L405.30,296.40 L405.80,296.40 L406.30,296.39 L406.80,296.39 L407.30,296.39 L407.80,296.38 L408.30,296.38 L408.80,296.38 L409.30,296.37 L409.80,296.37 L410.30,296.36 L410.80,296.36 L411.30,296.35 L411.80,296.35 L412.30,296.34 L412.80,296.34 L413.30,296.33 L413.80,296.32 L414.30,296.31 L414.80,296.31 L415.30,296.30 L415.80,296.29 L416.30,296.28 L416.80,296.27 L417.30,296.26 L417.80,296.25 L418.30,296.24 L418.80,296.22 L419.30,296.21 L419.80,296.20 L420.30,296.18 L420.80,296.17 L421.30,296.15 L421.80,296.13 L422.30,296.11 L422.80,296.09 L423.30,296.07 L423.80,296.05 L424.30,296.03 L424.80,296.00 L425.30,295.97 L425.80,295.95 L426.30,295.92 L426.80,295.89 L427.30,295.85 L427.80,295.82 L428.30,295.78 L428.80,295.74 L429.30,295.70 L429.80,295.66 L430.30,295.61 L430.80,295.56 L431.30,295.51 L431.80,295.45 L432.30,295.40 L432.80,295.33 L433.30,295.27 L433.80,295.20 L434.30,295.13 L434.80,295.05 L435.30,294.97 L435.80,294.89 L436.30,294.80 L436.80,294.71 L437.30,294.61 L437.80,294.51 L438.30,294.40 L438.80,294.28 L439.30,294.16 L439.80,294.04 L440.30,293.90 L440.80,293.76 L441.30,293.62 L441.80,293.46 L442.30,293.30 L442.80,293.14 L443.30,292.96 L443.80,292.78 L444.30,292.58 L444.80,292.38 L445.30,292.17 L445.80,291.96 L446.30,291.73 L446.80,291.49 L447.30,291.25 L447.80,290.99 L448.30,290.73 L448.80,290.46 L449.30,290.17 L449.80,289.88 L450.30,289.58 L450.80,289.27 L451.30,288.95 L451.80,288.62 L452.30,288.28 L452.80,287.94 L453.30,287.58 L453.80,287.22 L454.30,286.85 L454.80,286.48 L455.30,286.09 L455.80,285.70 L456.30,285.31 L456.80,284.91 L457.30,284.50 L457.80,284.09 L458.30,283.68 L458.80,283.27 L459.30,282.85 L459.80,282.44 L460.30,282.02 L460.80,281.60 L461.30,281.19 L461.80,280.77 L462.30,280.36 L462.80,279.96 L463.30,279.55 L463.80,279.15 L464.30,278.76 L464.80,278.37 L465.30,277.99 L465.80,277.61 L466.30,277.24 L466.80,276.88 L467.30,276.53 L467.80,276.19 L468.30,275.85 L468.80,275.52 L469.30,275.21 L469.80,274.90 L470.30,274.60 L470.80,274.31 L471.30,274.03 L471.80,273.76 L472.30,273.49 L472.80,273.24 L473.30,273.00 L473.80,272.76 L474.30,272.54 L474.80,272.32 L475.30,272.12 L475.80,271.92 L476.30,271.73 L476.80,271.55 L477.30,271.37 L477.80,271.20 L478.30,271.05 L478.80,270.89 L479.30,270.75 L479.80,270.61 L480.30,270.48 L480.80,270.35 L481.30,270.23 L481.80,270.12 L482.30,270.01 L482.80,269.91 L483.30,269.81 L483.80,269.72 L484.30,269.63 L484.80,269.55 L485.30,269.47 L485.80,269.40 L486.30,269.32 L486.80,269.26 L487.30,269.19 L487.80,269.13 L488.30,269.08 L488.80,269.02 L489.30,268.97 L489.80,268.92 L490.30,268.88 L490.80,268.83 L491.30,268.79 L491.80,268.75 L492.30,268.72 L492.80,268.68 L493.30,268.65 L493.80,268.62 L494.30,268.59 L494.80,268.56" stroke="#f47c7c" stroke-width="1.6" fill="none" />
<path d="M383.80,292.86 L384.30,292.85 L384.80,292.84 L385.30,292.84 L385.80,292.83 L386.30,292.82 L386.80,292.82 L387.30,292.81 L387.80,292.80 L388.30,292.79 L388.80,292.78 L389.30,292.77 L389.80,292.76 L390.30,292.75 L390.80,292.74 L391.30,292.73 L391.80,292.71 L392.30,292.70 L392.80,292.69 L393.30,292.67 L393.80,292.66 L394.30,292.64 L394.80,292.62 L395.30,292.60 L395.80,292.59 L396.30,292.57 L396.80,292.55 L397.30,292.53 L397.80,292.50 L398.30,292.48 L398.80,292.45 L399.30,292.43 L399.80,292.40 L400.30,292.37 L400.80,292.34 L401.30,292.31 L401.80,292.28 L402.30,292.24 L402.80,292.21 L403.30,292.17 L403.80,292.13 L404.30,292.09 L404.80,292.04 L405.30,292.00 L405.80,291.95 L406.30,291.90 L406.80,291.85 L407.30,291.79 L407.80,291.73 L408.30,291.67 L408.80,291.61 L409.30,291.54 L409.80,291.47 L410.30,291.40 L410.80,291.32 L411.30,291.24 L411.80,291.16 L412.30,291.07 L412.80,290.98 L413.30,290.88 L413.80,290.78 L414.30,290.67 L414.80,290.56 L415.30,290.45 L415.80,290.33 L416.30,290.20 L416.80,290.07 L417.30,289.93 L417.80,289.78 L418.30,289.63 L418.80,289.47 L419.30,289.31 L419.80,289.14 L420.30,288.96 L420.80,288.77 L421.30,288.57 L421.80,288.37 L422.30,288.15 L422.80,287.93 L423.30,287.70 L423.80,287.46 L424.30,287.21 L424.80,286.94 L425.30,286.67 L425.80,286.39 L426.30,286.09 L426.80,285.78 L427.30,285.47 L427.80,285.13 L428.30,284.79 L428.80,284.43 L429.30,284.06 L429.80,283.68 L430.30,283.28 L430.80,282.87 L431.30,282.44 L431.80,282.00 L432.30,281.54 L432.80,281.07 L433.30,280.59 L433.80,280.09 L434.30,279.57 L434.80,279.03 L435.30,278.49 L435.80,277.92 L436.30,277.34 L436.80,276.75 L437.30,276.14 L437.80,275.51 L438.30,274.87 L438.80,274.21 L439.30,273.54 L439.80,272.85 L440.30,272.15 L440.80,271.44 L441.30,270.71 L441.80,269.97 L442.30,269.22 L442.80,268.45 L443.30,267.68 L443.80,266.90 L444.30,266.10 L444.80,265.30 L445.30,264.49 L445.80,263.67 L446.30,262.85 L446.80,262.02 L447.30,261.18 L447.80,260.35 L448.30,259.51 L448.80,258.67 L449.30,257.83 L449.80,256.99 L450.30,256.15 L450.80,255.31 L451.30,254.48 L451.80,253.65 L452.30,252.83 L452.80,252.01 L453.30,251.20 L453.80,250.40 L454.30,249.61 L454.80,248.82 L455.30,248.05 L455.80,247.29 L456.30,246.54 L456.80,245.80 L457.30,245.08 L457.80,244.37 L458.30,243.67 L458.80,242.99 L459.30,242.32 L459.80,241.66 L460.30,241.02 L460.80,240.40 L461.30,239.79 L461.80,239.20 L462.30,238.62 L462.80,238.06 L463.30,237.52 L463.80,236.99 L464.30,236.47 L464.80,235.97 L465.30,235.49 L465.80,235.02 L466.30,234.57 L466.80,234.13 L467.30,233.71 L467.80,233.30 L468.30,232.90 L468.80,232.52 L469.30,232.16 L469.80,231.80 L470.30,231.46 L470.80,231.13 L471.30,230.81 L471.80,230.51 L472.30,230.22 L472.80,229.93 L473.30,229.66 L473.80,229.40 L474.30,229.15 L474.80,228.91 L475.30,228.68 L475.80,228.46 L476.30,228.25 L476.80,228.05 L477.30,227.85 L477.80,227.67 L478.30,227.49 L478.80,227.32 L479.30,227.15 L479.80,227.00 L480.30,226.85 L480.80,226.70 L481.30,226.57 L481.80,226.43 L482.30,226.31 L482.80,226.19 L483.30,226.07 L483.80,225.96 L484.30,225.86 L484.80,225.76 L485.30,225.66 L485.80,225.57 L486.30,225.49 L486.80,225.40 L487.30,225.32 L487.80,225.25 L488.30,225.17 L488.80,225.10 L489.30,225.04 L489.80,224.97 L490.30,224.91 L490.80,224.86 L491.30,224.80 L491.80,224.75 L492.30,224.70 L492.80,224.65 L493.30,224.61 L493.80,224.56 L494.30,224.52 L494.80,224.48" stroke="#1a6ff0" stroke-width="1.6" fill="none" />
<line x1="383.50" y1="295.46" x2="383.50" y2="298.06" stroke="#444" stroke-width="0.6" />
<line x1="382.60" y1="295.46" x2="384.40" y2="295.46" stroke="#444" stroke-width="0.6" />
<line x1="382.60" y1="298.06" x2="384.40" y2="298.06" stroke="#444" stroke-width="0.6" />
<circle cx="383.50" cy="296.76" r="2.35" fill="none" stroke="#f47c7c" stroke-width="1.0"/>
<line x1="399.18" y1="295.46" x2="399.18" y2="298.06" stroke="#444" stroke-width="0.6" />
<line x1="398.28" y1="295.46" x2="400.08" y2="295.46" stroke="#444" stroke-width="0.6" />
<line x1="398.28" y1="298.06" x2="400.08" y2="298.06" stroke="#444" stroke-width="0.6" />
<circle cx="399.18" cy="296.76" r="2.35" fill="none" stroke="#f47c7c" stroke-width="1.0"/>
<line x1="414.86" y1="294.33" x2="414.86" y2="296.93" stroke="#444" stroke-width="0.6" />
<line x1="413.96" y1="294.33" x2="415.76" y2="294.33" stroke="#444" stroke-width="0.6" />
<line x1="413.96" y1="296.93" x2="415.76" y2="296.93" stroke="#444" stroke-width="0.6" />
<circle cx="414.86" cy="295.63" r="2.35" fill="none" stroke="#f47c7c" stroke-width="1.0"/>
<line x1="430.54" y1="293.57" x2="430.54" y2="296.17" stroke="#444" stroke-width="0.6" />
<line x1="429.64" y1="293.57" x2="431.44" y2="293.57" stroke="#444" stroke-width="0.6" />
<line x1="429.64" y1="296.17" x2="431.44" y2="296.17" stroke="#444" stroke-width="0.6" />
<circle cx="430.54" cy="294.87" r="2.35" fill="none" stroke="#f47c7c" stroke-width="1.0"/>
<line x1="446.22" y1="289.92" x2="446.22" y2="292.52" stroke="#444" stroke-width="0.6" />
<line x1="445.32" y1="289.92" x2="447.12" y2="289.92" stroke="#444" stroke-width="0.6" />
<line x1="445.32" y1="292.52" x2="447.12" y2="292.52" stroke="#444" stroke-width="0.6" />
<circle cx="446.22" cy="291.22" r="2.35" fill="none" stroke="#f47c7c" stroke-width="1.0"/>
<line x1="461.90" y1="280.59" x2="461.90" y2="283.19" stroke="#444" stroke-width="0.6" />
<line x1="461.00" y1="280.59" x2="462.80" y2="280.59" stroke="#444" stroke-width="0.6" />
<line x1="461.00" y1="283.19" x2="462.80" y2="283.19" stroke="#444" stroke-width="0.6" />
<circle cx="461.90" cy="281.89" r="2.35" fill="none" stroke="#f47c7c" stroke-width="1.0"/>
<line x1="477.58" y1="268.69" x2="477.58" y2="271.29" stroke="#444" stroke-width="0.6" />
<line x1="476.68" y1="268.69" x2="478.48" y2="268.69" stroke="#444" stroke-width="0.6" />
<line x1="476.68" y1="271.29" x2="478.48" y2="271.29" stroke="#444" stroke-width="0.6" />
<circle cx="477.58" cy="269.99" r="2.35" fill="none" stroke="#f47c7c" stroke-width="1.0"/>
<line x1="493.26" y1="267.49" x2="493.26" y2="270.09" stroke="#444" stroke-width="0.6" />
<line x1="492.36" y1="267.49" x2="494.16" y2="267.49" stroke="#444" stroke-width="0.6" />
<line x1="492.36" y1="270.09" x2="494.16" y2="270.09" stroke="#444" stroke-width="0.6" />
<circle cx="493.26" cy="268.79" r="2.35" fill="none" stroke="#f47c7c" stroke-width="1.0"/>
<line x1="383.50" y1="291.30" x2="383.50" y2="293.90" stroke="#444" stroke-width="0.6" />
<line x1="382.60" y1="291.30" x2="384.40" y2="291.30" stroke="#444" stroke-width="0.6" />
<line x1="382.60" y1="293.90" x2="384.40" y2="293.90" stroke="#444" stroke-width="0.6" />
<circle cx="383.50" cy="292.60" r="2.35" fill="none" stroke="#1a6ff0" stroke-width="1.0"/>
<line x1="399.18" y1="290.61" x2="399.18" y2="293.21" stroke="#444" stroke-width="0.6" />
<line x1="398.28" y1="290.61" x2="400.08" y2="290.61" stroke="#444" stroke-width="0.6" />
<line x1="398.28" y1="293.21" x2="400.08" y2="293.21" stroke="#444" stroke-width="0.6" />
<circle cx="399.18" cy="291.91" r="2.35" fill="none" stroke="#1a6ff0" stroke-width="1.0"/>
<line x1="414.86" y1="288.28" x2="414.86" y2="290.88" stroke="#444" stroke-width="0.6" />
<line x1="413.96" y1="288.28" x2="415.76" y2="288.28" stroke="#444" stroke-width="0.6" />
<line x1="413.96" y1="290.88" x2="415.76" y2="290.88" stroke="#444" stroke-width="0.6" />
<circle cx="414.86" cy="289.58" r="2.35" fill="none" stroke="#1a6ff0" stroke-width="1.0"/>
<line x1="430.54" y1="287.90" x2="430.54" y2="290.50" stroke="#444" stroke-width="0.6" />
<line x1="429.64" y1="287.90" x2="431.44" y2="287.90" stroke="#444" stroke-width="0.6" />
<line x1="429.64" y1="290.50" x2="431.44" y2="290.50" stroke="#444" stroke-width="0.6" />
<circle cx="430.54" cy="289.20" r="2.35" fill="none" stroke="#1a6ff0" stroke-width="1.0"/>
<line x1="446.22" y1="262.57" x2="446.22" y2="265.17" stroke="#444" stroke-width="0.6" />
<line x1="445.32" y1="262.57" x2="447.12" y2="262.57" stroke="#444" stroke-width="0.6" />
<line x1="445.32" y1="265.17" x2="447.12" y2="265.17" stroke="#444" stroke-width="0.6" />
<circle cx="446.22" cy="263.87" r="2.35" fill="none" stroke="#1a6ff0" stroke-width="1.0"/>
<line x1="461.90" y1="246.95" x2="461.90" y2="249.55" stroke="#444" stroke-width="0.6" />
<line x1="461.00" y1="246.95" x2="462.80" y2="246.95" stroke="#444" stroke-width="0.6" />
<line x1="461.00" y1="249.55" x2="462.80" y2="249.55" stroke="#444" stroke-width="0.6" />
<circle cx="461.90" cy="248.25" r="2.35" fill="none" stroke="#1a6ff0" stroke-width="1.0"/>
<line x1="477.58" y1="227.61" x2="477.58" y2="230.21" stroke="#444" stroke-width="0.6" />
<line x1="476.68" y1="227.61" x2="478.48" y2="227.61" stroke="#444" stroke-width="0.6" />
<line x1="476.68" y1="230.21" x2="478.48" y2="230.21" stroke="#444" stroke-width="0.6" />
<circle cx="477.58" cy="228.91" r="2.35" fill="none" stroke="#1a6ff0" stroke-width="1.0"/>
<line x1="493.26" y1="227.23" x2="493.26" y2="229.83" stroke="#444" stroke-width="0.6" />
<line x1="492.36" y1="227.23" x2="494.16" y2="227.23" stroke="#444" stroke-width="0.6" />
<line x1="492.36" y1="229.83" x2="494.16" y2="229.83" stroke="#444" stroke-width="0.6" />
<circle cx="493.26" cy="228.53" r="2.35" fill="none" stroke="#1a6ff0" stroke-width="1.0"/>
<line x1="382.10" y1="221.20" x2="397.30" y2="221.20" stroke="#1a6ff0" stroke-width="1.4" />
<circle cx="389.80" cy="221.2" r="2.2" fill="#fff" stroke="#1a6ff0" stroke-width="1.1"/>
<text x="400.30" y="223.60" font-size="6.8" fill="#222" text-anchor="start" >SELFI</text>
<line x1="382.10" y1="229.20" x2="397.30" y2="229.20" stroke="#f47c7c" stroke-width="1.4" />
<circle cx="389.80" cy="229.2" r="2.2" fill="#fff" stroke="#f47c7c" stroke-width="1.1"/>
<text x="400.30" y="231.60" font-size="6.8" fill="#222" text-anchor="start" >LFIA</text>
<text x="523.00" y="209.60" font-size="13.5" fill="#231f20" font-weight="bold" text-anchor="start" >g</text>
<defs><linearGradient id="gv" x1="0" y1="0" x2="0" y2="1"><stop offset="0" stop-color="#f04848" stop-opacity="0.08"/><stop offset="1" stop-color="#f04848" stop-opacity="1"/></linearGradient><linearGradient id="gh" x1="1" y1="0" x2="0" y2="0"><stop offset="0" stop-color="#f04848" stop-opacity="0"/><stop offset="1" stop-color="#f04848" stop-opacity="1"/></linearGradient></defs>
<line x1="546.10" y1="304.30" x2="546.10" y2="213.00" stroke="#222" stroke-width="1.1" />
<polygon points="546.10,208.30 543.50,213.30 548.70,213.30" fill="#111"/>
<line x1="545.60" y1="304.30" x2="665.00" y2="304.30" stroke="#222" stroke-width="1.1" />
<polygon points="669.80,304.30 664.60,301.70 664.60,306.90" fill="#111"/>
<g transform="translate(542.1,242.3) rotate(-90)"><text x="0" y="0" font-size="6.4" font-weight="bold" fill="#111" text-anchor="middle">Limit of detection</text></g>
<text x="642.00" y="315.50" font-size="6.4" fill="#111" font-weight="bold" text-anchor="middle" >Analysis time</text>
<ellipse cx="584.0" cy="233.7" rx="27.5" ry="18.0" fill="#f6faf1" stroke="#8cc63f" stroke-width="0.8"/>
<ellipse cx="641.0" cy="282.5" rx="34.0" ry="18.8" fill="#eef6e6" stroke="#8cc63f" stroke-width="0.8"/>
<text x="583.30" y="212.90" font-size="7.9" fill="#8cc63f" text-anchor="middle" >Other probes</text>
<text x="643.00" y="261.40" font-size="7.9" fill="#8cc63f" text-anchor="middle" >Other systems</text>
<circle cx="580.5" cy="223.4" r="2.6" fill="#8cc63f"/>
<text x="584.60" y="225.40" font-size="5.6" fill="#222" text-anchor="start" >Ref. 32</text>
<circle cx="568.8" cy="229.9" r="2.6" fill="#8cc63f"/>
<text x="572.80" y="231.90" font-size="5.6" fill="#222" text-anchor="start" >Ref. 33</text>
<circle cx="562.7" cy="238.4" r="2.6" fill="#f26b6b"/>
<text x="567.70" y="240.40" font-size="5.6" fill="#222" font-weight="bold" text-anchor="start" >Single AuNP</text>
<circle cx="620.8" cy="274.5" r="2.6" fill="#8cc63f"/>
<text x="624.40" y="276.50" font-size="5.6" fill="#222" text-anchor="start" >Ref. 14</text>
<circle cx="646.7" cy="274.5" r="2.6" fill="#8cc63f"/>
<text x="650.60" y="276.50" font-size="5.6" fill="#222" text-anchor="start" >Ref. 17</text>
<circle cx="632.8" cy="284.1" r="2.6" fill="#8cc63f"/>
<text x="637.20" y="286.10" font-size="5.6" fill="#222" text-anchor="start" >Ref. 16</text>
<circle cx="623.0" cy="294.3" r="2.6" fill="#8cc63f"/>
<text x="626.80" y="296.30" font-size="5.6" fill="#222" text-anchor="start" >Ref. 15</text>
<circle cx="648.0" cy="291.5" r="2.6" fill="#f7931e"/>
<text x="651.60" y="293.50" font-size="5.6" fill="#222" font-weight="bold" text-anchor="start" >ELISA</text>
<text x="583.20" y="246.60" font-size="5.6" fill="#222" font-weight="bold" text-anchor="middle" >(20 nm)</text>
<rect x="560.8" y="249.4" width="2.0" height="30" fill="url(#gv)"/>
<polygon points="561.80,283.30 559.50,279.30 564.10,279.30" fill="#f04848"/>
<rect x="570" y="287.8" width="37.5" height="2.0" fill="url(#gh)"/>
<polygon points="566.80,288.80 570.80,286.50 570.80,291.10" fill="#f04848"/>
<circle cx="561.2" cy="288.8" r="3.3" fill="#1f78e6"/>
<text x="560.50" y="300.10" font-size="7.8" fill="#2f80e8" font-weight="bold" text-anchor="middle" >SELFI</text>
<g transform="translate(552.4,263.8) rotate(-90)"><text x="0" y="0" font-size="5.2" font-weight="bold" fill="#222" text-anchor="middle">Increased</text></g>
<g transform="translate(558.5,263.8) rotate(-90)"><text x="0" y="0" font-size="5.2" font-weight="bold" fill="#222" text-anchor="middle">sensitivity</text></g>
<text x="586.90" y="279.60" font-size="5.5" fill="#222" font-weight="bold" text-anchor="middle" >Rapid</text>
<text x="586.90" y="285.50" font-size="5.5" fill="#222" font-weight="bold" text-anchor="middle" >diagnosis</text>
</svg>
</body></html>
